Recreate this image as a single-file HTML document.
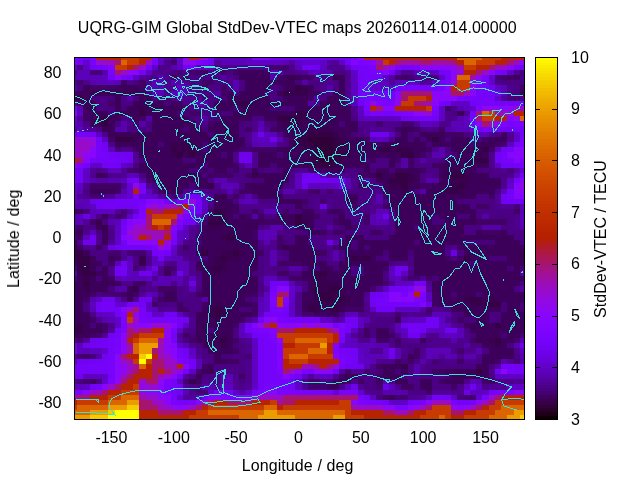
<!DOCTYPE html>
<html><head><meta charset="utf-8"><title>plot</title>
<style>
html,body{margin:0;padding:0;background:#fff;}
body{width:640px;height:480px;overflow:hidden;}
svg{display:block;}
text{font-family:"Liberation Sans",sans-serif;font-size:16px;fill:#000;}
.t{opacity:0.999;}
</style></head><body>
<svg width="640" height="480" viewBox="0 0 640 480">
<rect width="640" height="480" fill="#fff"/>
<g shape-rendering="crispEdges"><path fill="#300039" d="M308 137h25v5h-25zM314 142h19v5h-19zM320 147h13v5h-13zM320 152h13v6h-13zM320 158h13v5h-13z"/><path fill="#350044" d="M295 85h7v6h-7zM283 91h6v5h-6zM77 96h6v5h-6zM239 101h6v5h-6zM139 111h7v5h-7zM295 111h7v5h-7zM102 116h6v5h-6zM277 116h25v5h-25zM102 121h6v6h-6zM308 132h25v5h-25zM115 137h18v5h-18zM302 137h6v5h-6zM333 137h6v5h-6zM432 137h7v5h-7zM302 142h12v5h-12zM333 142h12v5h-12zM171 147h6v5h-6zM183 147h6v5h-6zM314 147h6v5h-6zM333 147h6v5h-6zM383 147h6v5h-6zM395 147h6v5h-6zM482 147h7v5h-7zM177 152h6v6h-6zM189 152h7v6h-7zM314 152h6v6h-6zM333 152h12v6h-12zM401 152h13v6h-13zM314 158h6v5h-6zM333 158h6v5h-6zM476 158h13v5h-13zM314 163h19v5h-19zM376 173h7v5h-7zM395 173h13v5h-13zM451 173h13v5h-13zM389 178h19v5h-19zM401 183h7v6h-7zM457 183h7v6h-7zM451 189h6v5h-6zM214 209h7v5h-7zM295 214h7v5h-7zM208 219h13v6h-13zM295 219h7v6h-7zM227 235h6v5h-6zM77 250h6v6h-6zM202 250h6v6h-6zM233 250h6v6h-6zM77 256h13v5h-13zM221 256h6v5h-6zM351 256h7v5h-7zM364 256h6v5h-6zM464 256h6v5h-6zM77 261h13v5h-13zM77 266h13v5h-13zM214 266h7v5h-7zM83 271h13v5h-13zM314 271h13v5h-13zM83 281h7v5h-7zM314 286h6v6h-6zM327 286h12v6h-12zM320 292h13v5h-13zM320 297h13v5h-13zM339 297h6v5h-6zM470 297h12v5h-12zM489 302h12v5h-12zM214 307h7v5h-7zM308 307h6v5h-6zM333 307h6v5h-6zM214 312h7v5h-7zM495 323h6v5h-6zM77 328h6v5h-6zM221 338h6v5h-6zM495 338h6v5h-6zM476 369h6v5h-6z"/><path fill="#39004f" d="M289 75h6v5h-6zM333 75h6v5h-6zM302 85h6v6h-6zM289 91h19v5h-19zM245 101h7v5h-7zM139 106h7v5h-7zM302 111h6v5h-6zM96 116h6v5h-6zM302 116h6v5h-6zM283 121h19v6h-19zM308 127h25v5h-25zM302 132h6v5h-6zM333 132h6v5h-6zM133 137h6v5h-6zM295 137h7v5h-7zM339 137h6v5h-6zM171 142h18v5h-18zM295 142h7v5h-7zM345 142h6v5h-6zM177 147h6v5h-6zM189 147h7v5h-7zM302 147h12v5h-12zM339 147h12v5h-12zM376 147h7v5h-7zM389 147h6v5h-6zM401 147h13v5h-13zM171 152h6v6h-6zM308 152h6v6h-6zM345 152h6v6h-6zM476 152h6v6h-6zM308 158h6v5h-6zM339 158h6v5h-6zM470 158h6v5h-6zM333 163h6v5h-6zM451 168h13v5h-13zM252 173h6v5h-6zM408 173h6v5h-6zM445 173h6v5h-6zM464 173h6v5h-6zM408 178h6v5h-6zM451 178h19v5h-19zM208 183h6v6h-6zM389 183h12v6h-12zM451 183h6v6h-6zM464 183h6v6h-6zM401 189h7v5h-7zM445 189h6v5h-6zM457 189h7v5h-7zM221 194h6v5h-6zM221 209h6v5h-6zM214 214h13v5h-13zM96 219h6v6h-6zM221 219h6v6h-6zM302 219h6v6h-6zM102 225h6v5h-6zM208 225h13v5h-13zM227 230h6v5h-6zM221 235h6v5h-6zM233 235h6v5h-6zM227 240h6v5h-6zM233 245h6v5h-6zM283 245h6v5h-6zM74 250h3v6h-3zM221 250h12v6h-12zM239 250h6v6h-6zM520 250h4v6h-4zM74 256h3v5h-3zM139 256h7v5h-7zM214 256h7v5h-7zM227 256h12v5h-12zM358 256h6v5h-6zM520 256h4v5h-4zM139 261h7v5h-7zM214 261h13v5h-13zM208 266h6v5h-6zM221 266h6v5h-6zM77 271h6v5h-6zM214 271h7v5h-7zM83 276h7v5h-7zM314 276h13v5h-13zM314 281h25v5h-25zM83 286h7v6h-7zM133 286h6v6h-6zM320 286h7v6h-7zM339 286h6v6h-6zM314 292h6v5h-6zM333 292h12v5h-12zM314 297h6v5h-6zM333 297h6v5h-6zM345 297h6v5h-6zM464 297h6v5h-6zM489 297h6v5h-6zM214 302h7v5h-7zM308 302h37v5h-37zM470 302h19v5h-19zM208 307h6v5h-6zM221 307h6v5h-6zM314 307h6v5h-6zM327 307h6v5h-6zM208 312h6v5h-6zM221 312h6v5h-6zM214 317h7v6h-7zM77 323h6v5h-6zM74 328h3v5h-3zM221 333h6v5h-6zM214 338h7v5h-7zM476 338h6v5h-6zM489 338h6v5h-6zM221 343h6v5h-6zM495 343h6v5h-6zM401 364h7v5h-7zM189 379h7v5h-7z"/><path fill="#3d005a" d="M239 70h25v5h-25zM239 75h31v5h-31zM283 75h6v5h-6zM295 75h7v5h-7zM339 75h6v5h-6zM245 80h25v5h-25zM277 80h18v5h-18zM339 80h6v5h-6zM83 85h7v6h-7zM115 85h24v6h-24zM245 85h25v6h-25zM283 85h12v6h-12zM308 85h6v6h-6zM339 85h6v6h-6zM77 91h69v5h-69zM227 91h6v5h-6zM239 91h25v5h-25zM277 91h6v5h-6zM308 91h6v5h-6zM333 91h12v5h-12zM520 91h4v5h-4zM74 96h3v5h-3zM83 96h7v5h-7zM115 96h6v5h-6zM139 96h13v5h-13zM227 96h43v5h-43zM283 96h25v5h-25zM327 96h18v5h-18zM83 101h13v5h-13zM115 101h6v5h-6zM133 101h31v5h-31zM171 101h6v5h-6zM214 101h25v5h-25zM252 101h56v5h-56zM320 101h25v5h-25zM83 106h13v5h-13zM115 106h6v5h-6zM127 106h12v5h-12zM146 106h37v5h-37zM214 106h19v5h-19zM239 106h31v5h-31zM295 106h56v5h-56zM90 111h18v5h-18zM115 111h24v5h-24zM146 111h31v5h-31zM233 111h62v5h-62zM308 111h43v5h-43zM457 111h7v5h-7zM90 116h6v5h-6zM108 116h13v5h-13zM133 116h6v5h-6zM152 116h37v5h-37zM221 116h31v5h-31zM264 116h13v5h-13zM308 116h43v5h-43zM90 121h12v6h-12zM108 121h7v6h-7zM152 121h44v6h-44zM214 121h25v6h-25zM277 121h6v6h-6zM302 121h37v6h-37zM345 121h13v6h-13zM102 127h13v5h-13zM152 127h31v5h-31zM189 127h13v5h-13zM208 127h31v5h-31zM277 127h31v5h-31zM333 127h25v5h-25zM401 127h13v5h-13zM108 132h100v5h-100zM214 132h25v5h-25zM283 132h19v5h-19zM339 132h12v5h-12zM401 132h7v5h-7zM420 132h25v5h-25zM139 137h106v5h-106zM289 137h6v5h-6zM345 137h19v5h-19zM395 137h13v5h-13zM414 137h6v5h-6zM426 137h6v5h-6zM439 137h6v5h-6zM451 137h19v5h-19zM489 137h18v5h-18zM115 142h43v5h-43zM164 142h7v5h-7zM189 142h13v5h-13zM208 142h37v5h-37zM289 142h6v5h-6zM351 142h25v5h-25zM383 142h43v5h-43zM432 142h38v5h-38zM476 142h19v5h-19zM139 147h32v5h-32zM196 147h6v5h-6zM208 147h31v5h-31zM277 147h25v5h-25zM351 147h25v5h-25zM414 147h12v5h-12zM451 147h31v5h-31zM139 152h32v6h-32zM183 152h6v6h-6zM196 152h25v6h-25zM227 152h6v6h-6zM258 152h19v6h-19zM283 152h25v6h-25zM351 152h50v6h-50zM414 152h6v6h-6zM457 152h19v6h-19zM482 152h7v6h-7zM146 158h37v5h-37zM196 158h37v5h-37zM258 158h50v5h-50zM345 158h19v5h-19zM370 158h6v5h-6zM389 158h6v5h-6zM445 158h25v5h-25zM139 163h63v5h-63zM208 163h25v5h-25zM258 163h12v5h-12zM277 163h37v5h-37zM339 163h31v5h-31zM389 163h6v5h-6zM439 163h50v5h-50zM139 168h50v5h-50zM214 168h13v5h-13zM252 168h6v5h-6zM283 168h6v5h-6zM327 168h18v5h-18zM364 168h6v5h-6zM376 168h13v5h-13zM395 168h25v5h-25zM439 168h12v5h-12zM464 168h12v5h-12zM96 173h6v5h-6zM146 173h56v5h-56zM258 173h31v5h-31zM370 173h6v5h-6zM383 173h12v5h-12zM414 173h6v5h-6zM439 173h6v5h-6zM470 173h19v5h-19zM152 178h56v5h-56zM264 178h25v5h-25zM376 178h13v5h-13zM414 178h6v5h-6zM439 178h12v5h-12zM470 178h31v5h-31zM158 183h31v6h-31zM196 183h12v6h-12zM245 183h38v6h-38zM383 183h6v6h-6zM408 183h12v6h-12zM432 183h19v6h-19zM470 183h31v6h-31zM90 189h25v5h-25zM164 189h19v5h-19zM252 189h25v5h-25zM383 189h18v5h-18zM408 189h6v5h-6zM426 189h19v5h-19zM464 189h31v5h-31zM214 194h7v5h-7zM258 194h25v5h-25zM345 194h13v5h-13zM389 194h87v5h-87zM214 199h19v5h-19zM277 199h25v5h-25zM345 199h13v5h-13zM389 199h68v5h-68zM214 204h25v5h-25zM295 204h7v5h-7zM389 204h81v5h-81zM227 209h12v5h-12zM302 209h12v5h-12zM333 209h6v5h-6zM395 209h81v5h-81zM102 214h6v5h-6zM208 214h6v5h-6zM227 214h6v5h-6zM239 214h6v5h-6zM277 214h18v5h-18zM302 214h12v5h-12zM339 214h6v5h-6zM395 214h37v5h-37zM439 214h18v5h-18zM470 214h6v5h-6zM227 219h37v6h-37zM283 219h12v6h-12zM308 219h6v6h-6zM339 219h12v6h-12zM395 219h37v6h-37zM445 219h31v6h-31zM96 225h6v5h-6zM202 225h6v5h-6zM221 225h37v5h-37zM295 225h19v5h-19zM345 225h6v5h-6zM395 225h19v5h-19zM420 225h44v5h-44zM77 230h6v5h-6zM102 230h6v5h-6zM202 230h25v5h-25zM233 230h19v5h-19zM308 230h12v5h-12zM395 230h69v5h-69zM476 230h6v5h-6zM501 230h6v5h-6zM102 235h6v5h-6zM202 235h19v5h-19zM239 235h13v5h-13zM295 235h13v5h-13zM345 235h19v5h-19zM389 235h125v5h-125zM74 240h3v5h-3zM102 240h6v5h-6zM202 240h25v5h-25zM233 240h25v5h-25zM295 240h13v5h-13zM345 240h6v5h-6zM358 240h56v5h-56zM420 240h44v5h-44zM495 240h25v5h-25zM74 245h3v5h-3zM196 245h37v5h-37zM239 245h19v5h-19zM289 245h25v5h-25zM339 245h12v5h-12zM358 245h6v5h-6zM370 245h75v5h-75zM464 245h60v5h-60zM83 250h7v6h-7zM196 250h6v6h-6zM208 250h13v6h-13zM245 250h13v6h-13zM289 250h31v6h-31zM345 250h38v6h-38zM389 250h19v6h-19zM414 250h31v6h-31zM464 250h56v6h-56zM90 256h6v5h-6zM108 256h7v5h-7zM208 256h6v5h-6zM239 256h19v5h-19zM289 256h25v5h-25zM345 256h6v5h-6zM370 256h6v5h-6zM389 256h19v5h-19zM414 256h31v5h-31zM470 256h19v5h-19zM507 256h13v5h-13zM74 261h3v5h-3zM90 261h12v5h-12zM196 261h18v5h-18zM227 261h31v5h-31zM302 261h25v5h-25zM339 261h50v5h-50zM414 261h56v5h-56zM476 261h48v5h-48zM90 266h6v5h-6zM102 266h6v5h-6zM196 266h12v5h-12zM227 266h31v5h-31zM308 266h6v5h-6zM320 266h13v5h-13zM339 266h12v5h-12zM364 266h19v5h-19zM414 266h93v5h-93zM514 266h6v5h-6zM96 271h12v5h-12zM164 271h7v5h-7zM202 271h12v5h-12zM221 271h31v5h-31zM302 271h12v5h-12zM327 271h24v5h-24zM364 271h19v5h-19zM414 271h106v5h-106zM77 276h6v5h-6zM90 276h6v5h-6zM102 276h6v5h-6zM202 276h56v5h-56zM302 276h12v5h-12zM327 276h56v5h-56zM439 276h85v5h-85zM74 281h9v5h-9zM90 281h31v5h-31zM202 281h56v5h-56zM308 281h6v5h-6zM339 281h44v5h-44zM432 281h88v5h-88zM74 286h9v6h-9zM90 286h18v6h-18zM127 286h6v6h-6zM202 286h56v6h-56zM308 286h6v6h-6zM345 286h25v6h-25zM432 286h82v6h-82zM74 292h16v5h-16zM127 292h6v5h-6zM164 292h13v5h-13zM202 292h50v5h-50zM302 292h12v5h-12zM345 292h19v5h-19zM439 292h12v5h-12zM457 292h19v5h-19zM482 292h42v5h-42zM74 297h9v5h-9zM127 297h6v5h-6zM164 297h13v5h-13zM208 297h37v5h-37zM302 297h12v5h-12zM351 297h13v5h-13zM439 297h25v5h-25zM482 297h7v5h-7zM495 297h29v5h-29zM74 302h9v5h-9zM208 302h6v5h-6zM221 302h31v5h-31zM302 302h6v5h-6zM345 302h19v5h-19zM439 302h31v5h-31zM507 302h13v5h-13zM74 307h9v5h-9zM202 307h6v5h-6zM227 307h12v5h-12zM302 307h6v5h-6zM320 307h7v5h-7zM339 307h6v5h-6zM451 307h50v5h-50zM507 307h13v5h-13zM74 312h16v5h-16zM196 312h12v5h-12zM227 312h25v5h-25zM314 312h6v5h-6zM327 312h12v5h-12zM464 312h25v5h-25zM501 312h23v5h-23zM74 317h16v6h-16zM196 317h18v6h-18zM221 317h18v6h-18zM395 317h6v6h-6zM476 317h13v6h-13zM501 317h23v6h-23zM74 323h3v5h-3zM83 323h7v5h-7zM96 323h6v5h-6zM196 323h37v5h-37zM470 323h25v5h-25zM501 323h23v5h-23zM83 328h19v5h-19zM196 328h12v5h-12zM214 328h19v5h-19zM376 328h13v5h-13zM470 328h54v5h-54zM74 333h16v5h-16zM196 333h25v5h-25zM227 333h6v5h-6zM376 333h13v5h-13zM476 333h25v5h-25zM507 333h13v5h-13zM196 338h18v5h-18zM227 338h6v5h-6zM420 338h6v5h-6zM482 338h7v5h-7zM501 338h13v5h-13zM202 343h19v5h-19zM227 343h6v5h-6zM482 343h13v5h-13zM501 343h6v5h-6zM208 348h25v6h-25zM489 348h25v6h-25zM214 354h7v5h-7zM408 354h6v5h-6zM482 354h32v5h-32zM214 359h13v5h-13zM482 359h13v5h-13zM208 364h6v5h-6zM383 364h18v5h-18zM476 364h13v5h-13zM202 369h12v5h-12zM383 369h12v5h-12zM401 369h7v5h-7zM445 369h31v5h-31zM482 369h7v5h-7zM196 374h6v5h-6zM345 374h13v5h-13zM383 374h18v5h-18zM451 374h38v5h-38zM333 379h12v5h-12zM395 379h13v5h-13zM420 379h12v5h-12zM445 379h19v5h-19zM327 384h12v6h-12zM420 384h12v6h-12zM389 395h6v5h-6z"/><path fill="#410064" d="M283 65h6v5h-6zM196 70h12v5h-12zM221 70h6v5h-6zM233 70h6v5h-6zM264 70h6v5h-6zM171 75h6v5h-6zM183 75h6v5h-6zM277 75h6v5h-6zM302 75h12v5h-12zM401 75h7v5h-7zM507 75h13v5h-13zM121 80h6v5h-6zM139 80h7v5h-7zM202 80h12v5h-12zM270 80h7v5h-7zM90 85h25v6h-25zM139 85h7v6h-7zM202 85h6v6h-6zM221 85h6v6h-6zM520 85h4v6h-4zM74 91h3v5h-3zM221 91h6v5h-6zM314 91h6v5h-6zM164 96h7v5h-7zM308 96h6v5h-6zM77 101h6v5h-6zM108 101h7v5h-7zM177 101h6v5h-6zM183 106h6v5h-6zM445 106h6v5h-6zM83 111h7v5h-7zM189 111h13v5h-13zM214 111h7v5h-7zM83 116h7v5h-7zM139 116h7v5h-7zM133 121h6v6h-6zM208 121h6v6h-6zM245 127h7v5h-7zM270 127h7v5h-7zM395 127h6v5h-6zM414 127h6v5h-6zM439 127h6v5h-6zM445 132h19v5h-19zM501 132h6v5h-6zM108 137h7v5h-7zM364 137h6v5h-6zM482 137h7v5h-7zM376 142h7v5h-7zM495 142h6v5h-6zM133 147h6v5h-6zM252 147h25v5h-25zM426 147h6v5h-6zM489 147h6v5h-6zM420 152h6v6h-6zM395 158h6v5h-6zM408 158h6v5h-6zM233 163h6v5h-6zM408 163h6v5h-6zM432 163h7v5h-7zM133 168h6v5h-6zM202 168h6v5h-6zM233 168h6v5h-6zM314 168h13v5h-13zM420 168h6v5h-6zM102 173h6v5h-6zM208 173h25v5h-25zM245 173h7v5h-7zM358 173h12v5h-12zM146 178h6v5h-6zM90 183h31v6h-31zM358 183h12v6h-12zM420 183h12v6h-12zM115 189h6v5h-6zM158 189h6v5h-6zM239 189h13v5h-13zM314 189h6v5h-6zM233 194h6v5h-6zM383 194h6v5h-6zM489 194h6v5h-6zM302 199h6v5h-6zM351 204h7v5h-7zM383 204h6v5h-6zM476 204h13v5h-13zM74 209h9v5h-9zM208 209h6v5h-6zM252 209h6v5h-6zM283 209h6v5h-6zM327 209h6v5h-6zM339 209h6v5h-6zM514 209h6v5h-6zM245 214h7v5h-7zM258 214h6v5h-6zM314 214h6v5h-6zM364 214h6v5h-6zM90 219h6v6h-6zM202 219h6v6h-6zM264 219h19v6h-19zM333 219h6v6h-6zM364 219h6v6h-6zM476 219h31v6h-31zM77 225h6v5h-6zM351 225h7v5h-7zM74 230h3v5h-3zM252 230h6v5h-6zM320 230h7v5h-7zM333 230h12v5h-12zM370 230h13v5h-13zM482 230h19v5h-19zM77 235h6v5h-6zM196 235h6v5h-6zM252 235h6v5h-6zM277 235h6v5h-6zM277 240h6v5h-6zM339 240h6v5h-6zM77 245h6v5h-6zM96 245h6v5h-6zM183 245h6v5h-6zM277 245h6v5h-6zM457 245h7v5h-7zM258 250h6v6h-6zM320 250h7v6h-7zM115 256h6v5h-6zM445 256h6v5h-6zM457 256h7v5h-7zM108 261h7v5h-7zM277 261h25v5h-25zM164 266h7v5h-7zM383 266h6v5h-6zM277 271h12v5h-12zM108 276h7v5h-7zM289 276h13v5h-13zM426 276h6v5h-6zM133 281h13v5h-13zM158 286h19v6h-19zM90 292h6v5h-6zM121 292h6v5h-6zM133 292h6v5h-6zM196 292h6v5h-6zM252 292h6v5h-6zM432 292h7v5h-7zM83 297h7v5h-7zM158 297h6v5h-6zM432 297h7v5h-7zM152 302h6v5h-6zM177 302h6v5h-6zM202 302h6v5h-6zM252 302h6v5h-6zM432 302h7v5h-7zM177 307h12v5h-12zM252 307h6v5h-6zM345 307h19v5h-19zM252 312h6v5h-6zM320 312h7v5h-7zM90 317h6v6h-6zM239 317h6v6h-6zM457 317h7v6h-7zM102 323h6v5h-6zM233 323h6v5h-6zM464 323h6v5h-6zM102 328h6v5h-6zM364 328h6v5h-6zM90 333h6v5h-6zM183 333h6v5h-6zM364 333h6v5h-6zM389 333h6v5h-6zM189 338h7v5h-7zM233 338h6v5h-6zM376 338h13v5h-13zM395 338h6v5h-6zM470 338h6v5h-6zM233 348h6v6h-6zM414 348h6v6h-6zM83 354h7v5h-7zM414 354h6v5h-6zM227 359h12v5h-12zM395 359h6v5h-6zM408 359h6v5h-6zM457 359h7v5h-7zM495 359h6v5h-6zM202 364h6v5h-6zM376 364h7v5h-7zM432 369h13v5h-13zM239 374h6v5h-6zM339 374h6v5h-6zM376 374h7v5h-7zM90 379h6v5h-6zM196 379h6v5h-6zM308 379h12v5h-12zM345 379h6v5h-6zM358 379h6v5h-6zM376 379h7v5h-7zM439 379h6v5h-6zM482 379h13v5h-13zM401 384h13v6h-13zM451 384h6v6h-6zM426 390h6v5h-6zM383 395h6v5h-6z"/><path fill="#44006f" d="M171 60h6v5h-6zM270 65h13v5h-13zM177 70h6v5h-6zM189 70h7v5h-7zM395 75h6v5h-6zM408 75h6v5h-6zM426 75h6v5h-6zM501 75h6v5h-6zM77 80h6v5h-6zM202 96h6v5h-6zM514 96h6v5h-6zM376 121h7v6h-7zM401 121h13v6h-13zM501 142h6v5h-6zM239 147h13v5h-13zM127 168h6v5h-6zM308 168h6v5h-6zM308 189h6v5h-6zM327 189h6v5h-6zM90 194h12v5h-12zM171 194h6v5h-6zM320 199h7v5h-7zM115 214h6v5h-6zM333 245h6v5h-6zM108 250h13v6h-13zM133 250h13v6h-13zM133 266h6v5h-6zM171 266h6v5h-6zM408 276h12v5h-12zM383 281h6v5h-6zM370 286h6v6h-6zM102 292h19v5h-19zM426 307h6v5h-6zM302 312h12v5h-12zM395 312h6v5h-6zM96 333h6v5h-6zM77 338h6v5h-6zM514 338h6v5h-6zM395 343h6v5h-6zM457 348h7v6h-7zM77 354h6v5h-6zM245 354h7v5h-7zM432 359h7v5h-7zM196 369h6v5h-6zM345 369h6v5h-6zM364 369h6v5h-6zM83 379h7v5h-7zM183 379h6v5h-6zM308 384h19v6h-19zM376 384h7v6h-7zM196 390h6v5h-6zM395 395h13v5h-13zM464 395h12v5h-12z"/><path fill="#470079" d="M90 70h12v5h-12zM520 70h4v5h-4zM432 75h7v5h-7zM495 75h6v5h-6zM295 80h7v5h-7zM277 85h6v6h-6zM264 91h6v5h-6zM90 96h6v5h-6zM108 96h7v5h-7zM221 96h6v5h-6zM277 96h6v5h-6zM507 96h7v5h-7zM164 101h7v5h-7zM121 106h6v5h-6zM233 106h6v5h-6zM270 106h25v5h-25zM108 111h7v5h-7zM177 111h12v5h-12zM221 111h12v5h-12zM189 116h7v5h-7zM214 116h7v5h-7zM239 121h6v6h-6zM270 121h7v6h-7zM339 121h6v6h-6zM183 127h6v5h-6zM202 127h6v5h-6zM208 132h6v5h-6zM351 132h7v5h-7zM408 132h6v5h-6zM408 137h6v5h-6zM420 137h6v5h-6zM445 137h6v5h-6zM158 142h6v5h-6zM202 142h6v5h-6zM426 142h6v5h-6zM470 142h6v5h-6zM115 147h6v5h-6zM202 147h6v5h-6zM221 152h6v6h-6zM277 152h6v6h-6zM451 152h6v6h-6zM139 158h7v5h-7zM183 158h13v5h-13zM364 158h6v5h-6zM202 163h6v5h-6zM270 163h7v5h-7zM189 168h13v5h-13zM208 168h6v5h-6zM227 168h6v5h-6zM258 168h6v5h-6zM277 168h6v5h-6zM358 168h6v5h-6zM370 168h6v5h-6zM389 168h6v5h-6zM476 168h6v5h-6zM507 168h7v5h-7zM202 173h6v5h-6zM252 178h12v5h-12zM189 183h7v6h-7zM457 199h7v5h-7zM302 204h6v5h-6zM514 204h6v5h-6zM83 209h7v5h-7zM121 209h6v5h-6zM295 209h7v5h-7zM121 214h6v5h-6zM233 214h6v5h-6zM333 214h6v5h-6zM432 214h7v5h-7zM457 214h13v5h-13zM432 219h13v6h-13zM339 225h6v5h-6zM414 225h6v5h-6zM302 230h6v5h-6zM345 230h6v5h-6zM74 235h3v5h-3zM196 240h6v5h-6zM283 240h6v5h-6zM351 240h7v5h-7zM414 240h6v5h-6zM464 240h31v5h-31zM351 245h7v5h-7zM364 245h6v5h-6zM127 250h6v6h-6zM283 250h6v6h-6zM383 250h6v6h-6zM408 250h6v6h-6zM202 256h6v5h-6zM314 256h6v5h-6zM376 256h7v5h-7zM489 256h18v5h-18zM470 261h6v5h-6zM74 266h3v5h-3zM96 266h6v5h-6zM314 266h6v5h-6zM333 266h6v5h-6zM507 266h7v5h-7zM520 266h4v5h-4zM252 271h6v5h-6zM74 276h3v5h-3zM96 276h6v5h-6zM432 276h7v5h-7zM108 286h7v6h-7zM451 292h6v5h-6zM476 292h6v5h-6zM245 297h7v5h-7zM501 302h6v5h-6zM520 302h4v5h-4zM239 307h13v5h-13zM501 307h6v5h-6zM520 307h4v5h-4zM426 312h6v5h-6zM457 312h7v5h-7zM464 317h12v6h-12zM495 317h6v6h-6zM90 323h6v5h-6zM208 328h6v5h-6zM189 333h7v5h-7zM470 333h6v5h-6zM501 333h6v5h-6zM520 333h4v5h-4zM233 343h6v5h-6zM90 354h6v5h-6zM221 354h12v5h-12zM401 359h7v5h-7zM514 359h6v5h-6zM376 369h7v5h-7zM395 369h6v5h-6zM445 374h6v5h-6zM77 379h6v5h-6zM202 390h6v5h-6zM376 395h7v5h-7zM457 395h7v5h-7z"/><path fill="#4b0083" d="M77 65h6v5h-6zM171 70h6v5h-6zM214 70h7v5h-7zM227 70h6v5h-6zM283 70h12v5h-12zM333 70h12v5h-12zM177 75h6v5h-6zM189 75h32v5h-32zM233 75h6v5h-6zM520 75h4v5h-4zM133 80h6v5h-6zM189 80h13v5h-13zM214 80h13v5h-13zM239 80h6v5h-6zM308 80h12v5h-12zM333 80h6v5h-6zM501 80h23v5h-23zM77 85h6v6h-6zM196 85h6v6h-6zM208 85h13v6h-13zM227 85h6v6h-6zM239 85h6v6h-6zM270 85h7v6h-7zM314 85h6v6h-6zM333 85h6v6h-6zM514 85h6v6h-6zM146 91h6v5h-6zM196 91h18v5h-18zM233 91h6v5h-6zM270 91h7v5h-7zM320 91h13v5h-13zM514 91h6v5h-6zM96 96h12v5h-12zM121 96h6v5h-6zM133 96h6v5h-6zM152 96h12v5h-12zM208 96h13v5h-13zM270 96h7v5h-7zM320 96h7v5h-7zM96 101h12v5h-12zM121 101h12v5h-12zM183 101h6v5h-6zM208 101h6v5h-6zM314 101h6v5h-6zM345 101h6v5h-6zM96 106h19v5h-19zM189 106h7v5h-7zM208 106h6v5h-6zM202 111h12v5h-12zM451 111h6v5h-6zM121 116h12v5h-12zM196 116h6v5h-6zM208 116h6v5h-6zM252 116h12v5h-12zM351 116h7v5h-7zM83 121h7v6h-7zM115 121h6v6h-6zM146 121h6v6h-6zM196 121h12v6h-12zM245 121h7v6h-7zM264 121h6v6h-6zM96 127h6v5h-6zM127 127h25v5h-25zM239 127h6v5h-6zM358 127h6v5h-6zM420 127h6v5h-6zM432 127h7v5h-7zM239 132h6v5h-6zM358 132h6v5h-6zM395 132h6v5h-6zM414 132h6v5h-6zM464 132h6v5h-6zM283 137h6v5h-6zM470 137h12v5h-12zM245 142h7v5h-7zM283 142h6v5h-6zM445 147h6v5h-6zM426 152h6v6h-6zM445 152h6v6h-6zM376 158h13v5h-13zM414 158h6v5h-6zM439 158h6v5h-6zM133 163h6v5h-6zM370 163h19v5h-19zM395 163h6v5h-6zM414 163h18v5h-18zM239 168h13v5h-13zM264 168h13v5h-13zM289 168h6v5h-6zM345 168h13v5h-13zM426 168h13v5h-13zM482 168h13v5h-13zM139 173h7v5h-7zM233 173h12v5h-12zM289 173h6v5h-6zM351 173h7v5h-7zM420 173h6v5h-6zM432 173h7v5h-7zM489 173h18v5h-18zM208 178h6v5h-6zM239 178h13v5h-13zM358 178h6v5h-6zM370 178h6v5h-6zM420 178h6v5h-6zM152 183h6v6h-6zM239 183h6v6h-6zM283 183h6v6h-6zM370 183h13v6h-13zM83 189h7v5h-7zM208 189h13v5h-13zM277 189h6v5h-6zM351 189h32v5h-32zM414 189h6v5h-6zM495 189h6v5h-6zM227 194h6v5h-6zM252 194h6v5h-6zM283 194h62v5h-62zM358 194h12v5h-12zM476 194h13v5h-13zM233 199h6v5h-6zM258 199h19v5h-19zM308 199h6v5h-6zM333 199h12v5h-12zM358 199h12v5h-12zM383 199h6v5h-6zM464 199h31v5h-31zM208 204h6v5h-6zM277 204h18v5h-18zM308 204h6v5h-6zM333 204h18v5h-18zM358 204h12v5h-12zM470 204h6v5h-6zM489 204h6v5h-6zM239 209h13v5h-13zM258 209h6v5h-6zM277 209h6v5h-6zM289 209h6v5h-6zM314 209h6v5h-6zM345 209h25v5h-25zM389 209h6v5h-6zM476 209h38v5h-38zM264 214h13v5h-13zM320 214h13v5h-13zM345 214h19v5h-19zM476 214h6v5h-6zM489 214h25v5h-25zM102 219h6v6h-6zM314 219h19v6h-19zM351 219h13v6h-13zM507 219h7v6h-7zM74 225h3v5h-3zM83 225h13v5h-13zM258 225h6v5h-6zM283 225h12v5h-12zM314 225h13v5h-13zM333 225h6v5h-6zM358 225h18v5h-18zM389 225h6v5h-6zM464 225h18v5h-18zM501 225h13v5h-13zM96 230h6v5h-6zM108 230h7v5h-7zM196 230h6v5h-6zM283 230h19v5h-19zM327 230h6v5h-6zM351 230h19v5h-19zM383 230h12v5h-12zM464 230h12v5h-12zM507 230h17v5h-17zM108 235h7v5h-7zM283 235h12v5h-12zM308 235h19v5h-19zM339 235h6v5h-6zM364 235h25v5h-25zM514 235h10v5h-10zM189 240h7v5h-7zM289 240h6v5h-6zM308 240h12v5h-12zM520 240h4v5h-4zM189 245h7v5h-7zM258 245h6v5h-6zM314 245h13v5h-13zM445 245h6v5h-6zM90 250h18v6h-18zM183 250h13v6h-13zM277 250h6v6h-6zM339 250h6v6h-6zM457 250h7v6h-7zM96 256h12v5h-12zM133 256h6v5h-6zM189 256h13v5h-13zM258 256h6v5h-6zM283 256h6v5h-6zM320 256h7v5h-7zM339 256h6v5h-6zM383 256h6v5h-6zM408 256h6v5h-6zM451 256h6v5h-6zM102 261h6v5h-6zM133 261h6v5h-6zM258 261h6v5h-6zM327 261h12v5h-12zM389 261h6v5h-6zM408 261h6v5h-6zM258 266h6v5h-6zM270 266h19v5h-19zM302 266h6v5h-6zM351 266h13v5h-13zM196 271h6v5h-6zM258 271h6v5h-6zM289 271h13v5h-13zM351 271h13v5h-13zM383 271h6v5h-6zM408 271h6v5h-6zM383 276h6v5h-6zM258 281h6v5h-6zM302 281h6v5h-6zM520 281h4v5h-4zM139 286h7v6h-7zM177 286h6v6h-6zM196 286h6v6h-6zM258 286h6v6h-6zM302 286h6v6h-6zM514 286h6v6h-6zM96 292h6v5h-6zM158 292h6v5h-6zM177 292h6v5h-6zM189 292h7v5h-7zM177 297h25v5h-25zM252 297h6v5h-6zM83 302h7v5h-7zM158 302h19v5h-19zM183 302h19v5h-19zM83 307h7v5h-7zM189 307h13v5h-13zM445 307h6v5h-6zM189 312h7v5h-7zM339 312h6v5h-6zM451 312h6v5h-6zM489 312h12v5h-12zM376 317h19v6h-19zM451 317h6v6h-6zM489 317h6v6h-6zM370 323h19v5h-19zM189 328h7v5h-7zM233 328h6v5h-6zM370 328h6v5h-6zM389 328h6v5h-6zM464 328h6v5h-6zM233 333h6v5h-6zM358 333h6v5h-6zM370 333h6v5h-6zM183 338h6v5h-6zM389 338h6v5h-6zM426 338h6v5h-6zM196 343h6v5h-6zM239 343h6v5h-6zM401 343h25v5h-25zM470 343h12v5h-12zM507 343h7v5h-7zM202 348h6v6h-6zM239 348h6v6h-6zM408 348h6v6h-6zM482 348h7v6h-7zM202 354h12v5h-12zM233 354h12v5h-12zM401 354h7v5h-7zM514 354h6v5h-6zM208 359h6v5h-6zM239 359h6v5h-6zM414 359h6v5h-6zM439 359h6v5h-6zM476 359h6v5h-6zM214 364h31v5h-31zM408 364h6v5h-6zM426 364h50v5h-50zM489 364h6v5h-6zM214 369h7v5h-7zM233 369h12v5h-12zM370 369h6v5h-6zM408 369h6v5h-6zM426 369h6v5h-6zM189 374h7v5h-7zM202 374h12v5h-12zM358 374h18v5h-18zM401 374h13v5h-13zM420 374h25v5h-25zM489 374h6v5h-6zM96 379h6v5h-6zM239 379h6v5h-6zM320 379h13v5h-13zM364 379h12v5h-12zM408 379h12v5h-12zM432 379h7v5h-7zM189 384h13v6h-13zM364 384h12v6h-12zM414 384h6v6h-6zM432 384h19v6h-19zM408 390h18v5h-18z"/><path fill="#4e008c" d="M171 57h6v3h-6zM164 60h7v5h-7zM158 65h13v5h-13zM214 65h56v5h-56zM289 65h6v5h-6zM327 65h18v5h-18zM158 70h13v5h-13zM183 70h6v5h-6zM208 70h6v5h-6zM295 70h7v5h-7zM345 70h6v5h-6zM146 75h12v5h-12zM164 75h7v5h-7zM227 75h6v5h-6zM314 75h19v5h-19zM345 75h6v5h-6zM414 75h12v5h-12zM74 80h3v5h-3zM83 80h7v5h-7zM127 80h6v5h-6zM146 80h6v5h-6zM164 80h7v5h-7zM183 80h6v5h-6zM227 80h6v5h-6zM320 80h13v5h-13zM345 80h6v5h-6zM495 80h6v5h-6zM164 85h7v6h-7zM189 85h7v6h-7zM320 85h7v6h-7zM345 85h6v6h-6zM507 85h7v6h-7zM164 91h7v5h-7zM189 91h7v5h-7zM345 91h6v5h-6zM507 91h7v5h-7zM171 96h6v5h-6zM183 96h19v5h-19zM345 96h6v5h-6zM520 96h4v5h-4zM189 101h7v5h-7zM196 106h12v5h-12zM351 106h7v5h-7zM451 106h6v5h-6zM351 111h7v5h-7zM445 111h6v5h-6zM445 116h12v5h-12zM127 121h6v6h-6zM252 121h6v6h-6zM358 121h18v6h-18zM383 121h18v6h-18zM439 121h12v6h-12zM252 127h6v5h-6zM364 127h6v5h-6zM389 127h6v5h-6zM426 127h6v5h-6zM102 132h6v5h-6zM245 132h7v5h-7zM277 132h6v5h-6zM364 132h6v5h-6zM470 132h6v5h-6zM495 132h6v5h-6zM245 137h7v5h-7zM389 137h6v5h-6zM507 137h7v5h-7zM108 142h7v5h-7zM277 142h6v5h-6zM121 147h12v5h-12zM432 147h7v5h-7zM133 152h6v6h-6zM233 152h6v6h-6zM252 152h6v6h-6zM489 152h6v6h-6zM233 158h6v5h-6zM252 158h6v5h-6zM426 158h13v5h-13zM489 158h6v5h-6zM252 163h6v5h-6zM489 163h6v5h-6zM96 168h6v5h-6zM295 168h13v5h-13zM495 168h6v5h-6zM90 173h6v5h-6zM108 173h13v5h-13zM345 173h6v5h-6zM426 173h6v5h-6zM507 173h7v5h-7zM227 178h12v5h-12zM289 178h6v5h-6zM351 178h7v5h-7zM501 178h6v5h-6zM83 183h7v6h-7zM214 183h7v6h-7zM289 183h6v6h-6zM351 183h7v6h-7zM501 183h6v6h-6zM152 189h6v5h-6zM183 189h6v5h-6zM202 189h6v5h-6zM221 189h6v5h-6zM233 189h6v5h-6zM295 189h13v5h-13zM320 189h7v5h-7zM333 189h18v5h-18zM83 194h7v5h-7zM102 194h6v5h-6zM164 194h7v5h-7zM208 194h6v5h-6zM239 194h6v5h-6zM370 194h6v5h-6zM208 199h6v5h-6zM314 199h6v5h-6zM327 199h6v5h-6zM370 199h6v5h-6zM239 204h38v5h-38zM314 204h6v5h-6zM327 204h6v5h-6zM370 204h13v5h-13zM495 204h6v5h-6zM320 209h7v5h-7zM370 209h6v5h-6zM96 214h6v5h-6zM108 214h7v5h-7zM202 214h6v5h-6zM389 214h6v5h-6zM514 214h6v5h-6zM389 219h6v6h-6zM514 219h6v6h-6zM108 225h7v5h-7zM196 225h6v5h-6zM264 225h6v5h-6zM376 225h13v5h-13zM514 225h6v5h-6zM83 230h7v5h-7zM189 230h7v5h-7zM277 230h6v5h-6zM96 235h6v5h-6zM189 235h7v5h-7zM327 235h12v5h-12zM77 240h6v5h-6zM96 240h6v5h-6zM183 240h6v5h-6zM258 240h6v5h-6zM270 240h7v5h-7zM320 240h7v5h-7zM83 245h13v5h-13zM102 245h6v5h-6zM177 245h6v5h-6zM264 245h13v5h-13zM327 245h6v5h-6zM451 245h6v5h-6zM177 250h6v6h-6zM264 250h6v6h-6zM327 250h6v6h-6zM445 250h6v6h-6zM121 256h6v5h-6zM146 256h6v5h-6zM183 256h6v5h-6zM264 256h6v5h-6zM277 256h6v5h-6zM327 256h6v5h-6zM146 261h6v5h-6zM164 261h13v5h-13zM189 261h7v5h-7zM264 261h6v5h-6zM395 261h13v5h-13zM108 266h7v5h-7zM158 266h6v5h-6zM189 266h7v5h-7zM264 266h6v5h-6zM408 266h6v5h-6zM108 271h7v5h-7zM158 271h6v5h-6zM171 271h6v5h-6zM189 271h7v5h-7zM264 271h13v5h-13zM196 276h6v5h-6zM258 276h6v5h-6zM283 276h6v5h-6zM420 276h6v5h-6zM121 281h12v5h-12zM146 281h6v5h-6zM171 281h6v5h-6zM196 281h6v5h-6zM295 281h7v5h-7zM146 286h12v6h-12zM183 286h6v6h-6zM183 292h6v5h-6zM258 292h6v5h-6zM295 292h7v5h-7zM364 292h6v5h-6zM121 297h6v5h-6zM152 297h6v5h-6zM295 297h7v5h-7zM295 302h7v5h-7zM364 302h6v5h-6zM158 307h6v5h-6zM295 307h7v5h-7zM364 307h6v5h-6zM432 307h13v5h-13zM90 312h6v5h-6zM358 312h18v5h-18zM389 312h6v5h-6zM401 312h7v5h-7zM414 312h12v5h-12zM96 317h6v6h-6zM189 317h7v6h-7zM245 317h7v6h-7zM370 317h6v6h-6zM108 323h7v5h-7zM189 323h7v5h-7zM364 323h6v5h-6zM389 323h6v5h-6zM457 323h7v5h-7zM183 328h6v5h-6zM358 328h6v5h-6zM395 333h6v5h-6zM426 333h13v5h-13zM464 333h6v5h-6zM74 338h3v5h-3zM239 338h6v5h-6zM358 338h12v5h-12zM401 338h7v5h-7zM432 338h19v5h-19zM457 338h13v5h-13zM189 343h7v5h-7zM245 343h7v5h-7zM389 343h6v5h-6zM426 343h38v5h-38zM196 348h6v6h-6zM245 348h7v6h-7zM401 348h7v6h-7zM420 348h6v6h-6zM451 348h6v6h-6zM464 348h12v6h-12zM514 348h6v6h-6zM420 354h6v5h-6zM457 354h7v5h-7zM476 354h6v5h-6zM202 359h6v5h-6zM245 359h7v5h-7zM376 359h19v5h-19zM426 359h6v5h-6zM445 359h12v5h-12zM464 359h12v5h-12zM245 364h7v5h-7zM370 364h6v5h-6zM420 364h6v5h-6zM221 369h12v5h-12zM245 369h7v5h-7zM420 369h6v5h-6zM489 369h6v5h-6zM214 374h7v5h-7zM233 374h6v5h-6zM245 374h7v5h-7zM414 374h6v5h-6zM202 379h19v5h-19zM233 379h6v5h-6zM245 379h7v5h-7zM302 379h6v5h-6zM351 379h7v5h-7zM389 379h6v5h-6zM464 379h6v5h-6zM495 379h19v5h-19zM239 384h6v6h-6zM339 384h6v6h-6zM395 384h6v6h-6zM457 384h7v6h-7zM482 384h7v6h-7zM189 390h7v5h-7zM370 390h13v5h-13zM451 390h13v5h-13z"/><path fill="#510096" d="M333 60h6v5h-6zM74 70h3v5h-3zM152 70h6v5h-6zM302 70h6v5h-6zM401 70h13v5h-13zM514 70h6v5h-6zM139 75h7v5h-7zM389 80h6v5h-6zM420 80h12v5h-12zM171 85h6v6h-6zM74 101h3v5h-3zM464 111h6v5h-6zM77 116h6v5h-6zM414 121h6v6h-6zM90 127h6v5h-6zM264 127h6v5h-6zM370 127h19v5h-19zM489 132h6v5h-6zM507 132h7v5h-7zM133 158h6v5h-6zM239 163h6v5h-6zM90 168h6v5h-6zM102 168h6v5h-6zM121 168h6v5h-6zM501 168h6v5h-6zM121 173h6v5h-6zM327 173h18v5h-18zM121 183h6v6h-6zM146 183h6v6h-6zM189 189h13v5h-13zM77 194h6v5h-6zM108 194h7v5h-7zM177 194h6v5h-6zM495 194h6v5h-6zM495 199h6v5h-6zM501 204h13v5h-13zM115 209h6v5h-6zM83 219h7v6h-7zM189 225h7v5h-7zM108 240h7v5h-7zM121 250h6v6h-6zM139 266h7v5h-7zM152 276h6v5h-6zM183 276h6v5h-6zM277 276h6v5h-6zM401 276h7v5h-7zM183 281h6v5h-6zM389 281h6v5h-6zM426 281h6v5h-6zM376 286h7v6h-7zM139 292h7v5h-7zM133 297h6v5h-6zM364 297h6v5h-6zM164 307h13v5h-13zM183 312h6v5h-6zM295 312h7v5h-7zM376 312h13v5h-13zM408 312h6v5h-6zM445 317h6v6h-6zM451 323h6v5h-6zM108 328h7v5h-7zM102 333h6v5h-6zM177 333h6v5h-6zM351 333h7v5h-7zM83 338h7v5h-7zM245 338h7v5h-7zM408 338h12v5h-12zM370 348h13v6h-13zM74 354h3v5h-3zM196 354h6v5h-6zM439 354h6v5h-6zM507 359h7v5h-7zM351 369h13v5h-13zM333 374h6v5h-6zM74 379h3v5h-3zM514 379h10v5h-10zM183 384h6v6h-6zM233 384h6v6h-6zM245 384h7v6h-7zM302 384h6v6h-6zM358 384h6v6h-6zM489 384h18v6h-18zM364 390h6v5h-6zM432 390h19v5h-19zM408 395h12v5h-12z"/><path fill="#53009f" d="M214 60h7v5h-7zM289 60h6v5h-6zM327 60h6v5h-6zM389 75h6v5h-6zM501 96h6v5h-6zM83 127h7v5h-7zM514 168h6v5h-6zM139 178h7v5h-7zM158 194h6v5h-6zM127 209h6v5h-6zM146 250h6v6h-6zM520 271h4v5h-4zM264 286h6v6h-6zM426 286h6v6h-6zM420 307h6v5h-6zM333 317h6v6h-6zM177 338h6v5h-6zM96 354h6v5h-6zM520 359h4v5h-4zM495 364h6v5h-6zM339 369h6v5h-6zM183 374h6v5h-6zM308 374h6v5h-6zM214 384h7v6h-7zM183 395h13v5h-13zM420 395h6v5h-6z"/><path fill="#5600a8" d="M102 70h6v5h-6zM277 70h6v5h-6zM221 75h6v5h-6zM270 75h7v5h-7zM302 80h6v5h-6zM74 85h3v6h-3zM214 91h7v5h-7zM127 96h6v5h-6zM314 96h6v5h-6zM308 101h6v5h-6zM146 116h6v5h-6zM202 116h6v5h-6zM139 121h7v6h-7zM74 127h3v5h-3zM115 127h6v5h-6zM445 127h6v5h-6zM401 158h7v5h-7zM420 158h6v5h-6zM401 163h7v5h-7zM96 178h12v5h-12zM364 178h6v5h-6zM432 178h7v5h-7zM420 189h6v5h-6zM252 214h6v5h-6zM482 214h7v5h-7zM327 225h6v5h-6zM482 225h19v5h-19zM289 266h13v5h-13zM74 271h3v5h-3zM115 286h12v6h-12zM520 286h4v6h-4zM202 297h6v5h-6zM252 317h6v6h-6zM339 317h6v6h-6zM464 343h6v5h-6zM239 390h6v5h-6zM401 390h7v5h-7z"/><path fill="#5900b0" d="M164 57h7v3h-7zM171 65h6v5h-6zM270 70h7v5h-7zM327 70h6v5h-6zM74 75h3v5h-3zM158 75h6v5h-6zM90 80h6v5h-6zM171 80h12v5h-12zM233 80h6v5h-6zM146 85h6v6h-6zM233 85h6v6h-6zM327 85h6v6h-6zM158 91h6v5h-6zM196 101h12v5h-12zM457 106h7v5h-7zM457 116h7v5h-7zM77 121h6v6h-6zM121 121h6v6h-6zM258 121h6v6h-6zM121 127h6v5h-6zM451 127h6v5h-6zM252 142h6v5h-6zM439 147h6v5h-6zM432 152h13v6h-13zM90 178h6v5h-6zM108 178h13v5h-13zM214 178h13v5h-13zM426 178h6v5h-6zM233 183h6v6h-6zM121 189h6v5h-6zM227 189h6v5h-6zM283 189h12v5h-12zM245 194h7v5h-7zM376 194h7v5h-7zM239 199h6v5h-6zM252 199h6v5h-6zM376 199h7v5h-7zM74 204h9v5h-9zM264 209h13v5h-13zM520 209h4v5h-4zM74 214h3v5h-3zM370 214h6v5h-6zM74 219h3v6h-3zM108 219h7v6h-7zM370 219h6v6h-6zM270 225h13v5h-13zM520 225h4v5h-4zM258 230h6v5h-6zM258 235h6v5h-6zM270 235h7v5h-7zM264 240h6v5h-6zM333 240h6v5h-6zM270 250h7v6h-7zM333 250h6v6h-6zM127 256h6v5h-6zM270 256h7v5h-7zM333 256h6v5h-6zM270 261h7v5h-7zM164 276h7v5h-7zM152 281h19v5h-19zM177 281h6v5h-6zM295 286h7v6h-7zM152 292h6v5h-6zM90 297h6v5h-6zM258 297h6v5h-6zM445 312h6v5h-6zM102 317h6v6h-6zM364 317h6v6h-6zM370 338h6v5h-6zM451 338h6v5h-6zM520 338h4v5h-4zM376 343h13v5h-13zM514 343h6v5h-6zM476 348h6v6h-6zM432 354h7v5h-7zM451 354h6v5h-6zM464 354h12v5h-12zM520 354h4v5h-4zM420 359h6v5h-6zM501 359h6v5h-6zM414 364h6v5h-6zM414 369h6v5h-6zM383 379h6v5h-6zM476 379h6v5h-6zM202 384h6v6h-6zM383 390h18v5h-18z"/><path fill="#5b01b8" d="M221 57h6v3h-6zM221 60h24v5h-24zM283 60h6v5h-6zM208 65h6v5h-6zM295 65h7v5h-7zM77 70h13v5h-13zM308 70h6v5h-6zM320 70h7v5h-7zM77 75h25v5h-25zM96 80h12v5h-12zM115 80h6v5h-6zM152 80h12v5h-12zM383 80h6v5h-6zM395 80h6v5h-6zM152 85h12v6h-12zM183 85h6v6h-6zM501 85h6v6h-6zM152 91h6v5h-6zM171 91h6v5h-6zM183 91h6v5h-6zM501 91h6v5h-6zM177 96h6v5h-6zM351 101h7v5h-7zM77 106h6v5h-6zM358 116h6v5h-6zM432 121h7v6h-7zM451 121h13v6h-13zM258 127h6v5h-6zM457 127h13v5h-13zM252 132h6v5h-6zM270 132h7v5h-7zM389 132h6v5h-6zM476 132h13v5h-13zM252 137h6v5h-6zM277 137h6v5h-6zM370 137h6v5h-6zM383 137h6v5h-6zM258 142h19v5h-19zM495 147h6v5h-6zM127 163h6v5h-6zM245 163h7v5h-7zM127 173h12v5h-12zM295 173h7v5h-7zM121 178h6v5h-6zM345 178h6v5h-6zM221 183h12v6h-12zM345 183h6v6h-6zM77 189h6v5h-6zM202 194h6v5h-6zM77 199h13v5h-13zM245 199h7v5h-7zM83 204h7v5h-7zM520 204h4v5h-4zM90 209h6v5h-6zM202 209h6v5h-6zM376 209h13v5h-13zM77 214h6v5h-6zM90 214h6v5h-6zM520 214h4v5h-4zM77 219h6v6h-6zM115 219h6v6h-6zM196 219h6v6h-6zM376 219h13v6h-13zM520 219h4v6h-4zM90 230h6v5h-6zM183 230h6v5h-6zM264 230h13v5h-13zM183 235h6v5h-6zM264 235h6v5h-6zM171 256h12v5h-12zM115 261h6v5h-6zM177 261h12v5h-12zM177 266h12v5h-12zM389 266h6v5h-6zM133 271h6v5h-6zM183 271h6v5h-6zM115 276h6v5h-6zM127 276h19v5h-19zM158 276h6v5h-6zM171 276h12v5h-12zM189 276h7v5h-7zM264 276h13v5h-13zM389 276h6v5h-6zM289 281h6v5h-6zM189 286h7v6h-7zM146 292h6v5h-6zM115 297h6v5h-6zM258 302h6v5h-6zM90 307h6v5h-6zM152 307h6v5h-6zM258 307h6v5h-6zM345 312h13v5h-13zM432 312h13v5h-13zM108 317h7v6h-7zM401 317h7v6h-7zM239 323h6v5h-6zM395 323h6v5h-6zM395 328h6v5h-6zM457 328h7v5h-7zM239 333h6v5h-6zM401 333h7v5h-7zM439 333h6v5h-6zM457 333h7v5h-7zM351 338h7v5h-7zM183 343h6v5h-6zM358 343h18v5h-18zM83 348h7v6h-7zM364 348h6v6h-6zM395 348h6v6h-6zM426 348h25v6h-25zM520 348h4v6h-4zM364 354h19v5h-19zM395 354h6v5h-6zM426 354h6v5h-6zM445 354h6v5h-6zM196 359h6v5h-6zM370 359h6v5h-6zM196 364h6v5h-6zM364 364h6v5h-6zM221 374h12v5h-12zM221 379h12v5h-12zM470 379h6v5h-6zM208 384h6v6h-6zM389 384h6v6h-6zM183 390h6v5h-6z"/><path fill="#5e01c0" d="M214 57h7v3h-7zM227 57h18v3h-18zM158 60h6v5h-6zM245 60h7v5h-7zM270 60h13v5h-13zM83 65h7v5h-7zM177 65h6v5h-6zM196 65h12v5h-12zM320 65h7v5h-7zM314 70h6v5h-6zM395 70h6v5h-6zM414 70h6v5h-6zM102 75h6v5h-6zM351 75h7v5h-7zM108 80h7v5h-7zM351 80h7v5h-7zM376 80h7v5h-7zM401 80h19v5h-19zM432 80h7v5h-7zM177 85h6v6h-6zM351 85h7v6h-7zM351 91h7v5h-7zM351 96h7v5h-7zM464 106h6v5h-6zM77 111h6v5h-6zM358 111h6v5h-6zM439 111h6v5h-6zM364 116h31v5h-31zM439 116h6v5h-6zM464 116h6v5h-6zM420 121h12v6h-12zM464 121h6v6h-6zM77 127h6v5h-6zM96 132h6v5h-6zM264 132h6v5h-6zM102 137h6v5h-6zM258 137h12v5h-12zM376 137h7v5h-7zM507 142h7v5h-7zM108 147h7v5h-7zM495 163h6v5h-6zM108 168h13v5h-13zM83 173h7v5h-7zM320 173h7v5h-7zM514 173h6v5h-6zM83 178h7v5h-7zM295 178h7v5h-7zM507 178h7v5h-7zM77 183h6v6h-6zM295 183h7v6h-7zM308 183h25v6h-25zM146 189h6v5h-6zM501 189h6v5h-6zM115 194h12v5h-12zM74 199h3v5h-3zM202 199h6v5h-6zM202 204h6v5h-6zM96 209h19v5h-19zM376 214h7v5h-7zM115 225h6v5h-6zM115 230h6v5h-6zM83 235h7v5h-7zM177 240h6v5h-6zM171 250h6v6h-6zM152 256h6v5h-6zM127 261h6v5h-6zM152 261h12v5h-12zM127 266h6v5h-6zM146 266h6v5h-6zM127 271h6v5h-6zM152 271h6v5h-6zM389 271h6v5h-6zM401 271h7v5h-7zM121 276h6v5h-6zM146 276h6v5h-6zM395 276h6v5h-6zM264 281h6v5h-6zM395 281h13v5h-13zM383 286h6v6h-6zM264 292h6v5h-6zM426 292h6v5h-6zM96 297h6v5h-6zM426 297h6v5h-6zM90 302h6v5h-6zM146 302h6v5h-6zM289 302h6v5h-6zM289 307h6v5h-6zM370 307h6v5h-6zM395 307h25v5h-25zM96 312h6v5h-6zM177 312h6v5h-6zM258 312h6v5h-6zM327 317h6v6h-6zM358 317h6v6h-6zM408 317h12v6h-12zM439 317h6v6h-6zM183 323h6v5h-6zM358 323h6v5h-6zM445 323h6v5h-6zM239 328h6v5h-6zM351 328h7v5h-7zM432 328h13v5h-13zM420 333h6v5h-6zM445 333h12v5h-12zM345 338h6v5h-6zM77 343h6v5h-6zM252 343h6v5h-6zM351 343h7v5h-7zM77 348h6v6h-6zM90 348h12v6h-12zM189 348h7v6h-7zM252 348h6v6h-6zM358 348h6v6h-6zM383 348h6v6h-6zM252 354h6v5h-6zM383 354h6v5h-6zM74 359h3v5h-3zM252 359h6v5h-6zM364 359h6v5h-6zM252 364h6v5h-6zM189 369h7v5h-7zM252 369h6v5h-6zM83 374h19v5h-19zM252 374h6v5h-6zM314 374h6v5h-6zM327 374h6v5h-6zM495 374h6v5h-6zM514 374h6v5h-6zM252 379h6v5h-6zM74 384h9v6h-9zM221 384h12v6h-12zM345 384h6v6h-6zM464 384h6v6h-6zM476 384h6v6h-6zM507 384h7v6h-7zM470 390h12v5h-12zM370 395h6v5h-6zM395 400h6v5h-6z"/><path fill="#6001c7" d="M158 57h6v3h-6zM245 57h7v3h-7zM177 60h6v5h-6zM252 60h18v5h-18zM295 60h7v5h-7zM320 60h7v5h-7zM339 60h6v5h-6zM74 65h3v5h-3zM152 65h6v5h-6zM345 65h6v5h-6zM146 70h6v5h-6zM351 70h7v5h-7zM420 70h19v5h-19zM507 70h7v5h-7zM133 75h6v5h-6zM383 75h6v5h-6zM439 75h6v5h-6zM489 80h6v5h-6zM376 85h19v6h-19zM495 85h6v6h-6zM451 101h19v5h-19zM358 106h6v5h-6zM439 106h6v5h-6zM395 116h6v5h-6zM74 121h3v6h-3zM470 127h6v5h-6zM514 132h6v5h-6zM514 137h6v5h-6zM90 163h12v5h-12zM121 163h6v5h-6zM83 168h7v5h-7zM333 183h6v6h-6zM74 194h3v5h-3zM152 194h6v5h-6zM183 194h6v5h-6zM90 204h6v5h-6zM127 214h6v5h-6zM196 214h6v5h-6zM183 225h6v5h-6zM177 230h6v5h-6zM115 235h6v5h-6zM177 235h6v5h-6zM115 240h6v5h-6zM164 256h7v5h-7zM408 281h6v5h-6zM264 297h6v5h-6zM289 297h6v5h-6zM264 302h6v5h-6zM146 307h6v5h-6zM264 307h6v5h-6zM102 312h13v5h-13zM152 312h12v5h-12zM289 312h6v5h-6zM115 317h6v6h-6zM320 317h7v6h-7zM420 317h6v6h-6zM115 323h6v5h-6zM439 323h6v5h-6zM177 328h6v5h-6zM401 328h7v5h-7zM426 328h6v5h-6zM245 333h7v5h-7zM345 333h6v5h-6zM252 338h6v5h-6zM345 343h6v5h-6zM189 354h7v5h-7zM358 354h6v5h-6zM358 359h6v5h-6zM102 374h6v5h-6zM302 374h6v5h-6zM320 374h7v5h-7zM501 374h13v5h-13zM520 374h4v5h-4zM177 379h6v5h-6zM295 379h7v5h-7zM83 384h7v6h-7zM252 384h6v6h-6zM295 384h7v6h-7zM514 384h10v6h-10zM208 390h6v5h-6zM233 390h6v5h-6zM482 390h7v5h-7zM196 395h6v5h-6zM426 395h6v5h-6zM451 395h6v5h-6zM389 400h6v5h-6zM401 400h7v5h-7z"/><path fill="#6301ce" d="M177 57h6v3h-6zM83 60h7v5h-7zM302 60h18v5h-18zM489 75h6v5h-6zM370 80h6v5h-6zM370 85h6v6h-6zM495 96h6v5h-6zM470 106h6v5h-6zM520 168h4v5h-4zM74 183h3v6h-3zM507 183h7v6h-7zM74 189h3v5h-3zM146 194h6v5h-6zM133 209h6v5h-6zM171 245h6v5h-6zM289 286h6v6h-6zM289 292h6v5h-6zM115 302h12v5h-12zM177 343h6v5h-6zM102 348h6v6h-6zM102 379h6v5h-6zM245 390h7v5h-7zM358 390h6v5h-6zM177 395h6v5h-6zM476 395h6v5h-6z"/><path fill="#6501d5" d="M74 116h3v5h-3zM127 183h6v6h-6zM127 189h6v5h-6zM127 194h6v5h-6zM139 194h7v5h-7zM171 199h6v5h-6zM339 343h6v5h-6z"/><path fill="#6701db" d="M333 390h6v5h-6z"/><path fill="#6a01e1" d="M320 204h7v5h-7zM451 250h6v6h-6z"/><path fill="#6c01e6" d="M83 214h7v5h-7zM327 240h6v5h-6zM108 245h7v5h-7zM189 281h7v5h-7zM383 384h6v6h-6zM464 390h6v5h-6z"/><path fill="#6e02ea" d="M177 91h6v5h-6zM258 132h6v5h-6zM370 132h6v5h-6zM383 132h6v5h-6zM270 137h7v5h-7zM239 152h13v6h-13zM90 199h6v5h-6zM383 214h6v5h-6zM83 240h7v5h-7zM152 266h6v5h-6zM401 266h7v5h-7zM177 271h6v5h-6zM426 302h6v5h-6zM74 343h3v5h-3zM520 343h4v5h-4zM74 348h3v6h-3zM389 354h6v5h-6zM351 384h7v6h-7z"/><path fill="#7002ef" d="M302 65h6v5h-6zM314 65h6v5h-6zM401 116h7v5h-7zM376 132h7v5h-7zM127 152h6v6h-6zM127 158h6v5h-6zM239 158h13v5h-13zM302 173h6v5h-6zM314 173h6v5h-6zM327 178h18v5h-18zM302 183h6v6h-6zM339 183h6v6h-6zM501 199h6v5h-6zM90 235h6v5h-6zM90 240h6v5h-6zM115 245h6v5h-6zM121 261h6v5h-6zM395 266h6v5h-6zM115 271h6v5h-6zM139 271h13v5h-13zM395 271h6v5h-6zM370 292h6v5h-6zM102 297h13v5h-13zM139 297h13v5h-13zM183 317h6v6h-6zM401 323h7v5h-7zM445 328h12v5h-12zM408 333h12v5h-12zM90 338h6v5h-6zM83 343h7v5h-7zM389 348h6v6h-6zM77 359h6v5h-6zM358 364h6v5h-6zM77 374h6v5h-6zM470 384h6v6h-6z"/><path fill="#7202f3" d="M277 57h68v3h-68zM77 60h6v5h-6zM208 60h6v5h-6zM90 65h6v5h-6zM183 65h13v5h-13zM308 65h6v5h-6zM520 65h4v5h-4zM489 85h6v6h-6zM495 91h6v5h-6zM358 101h6v5h-6zM445 101h6v5h-6zM520 101h4v5h-4zM408 116h6v5h-6zM432 116h7v5h-7zM501 127h13v5h-13zM102 142h6v5h-6zM501 147h6v5h-6zM115 152h12v6h-12zM495 152h6v6h-6zM495 158h6v5h-6zM102 163h6v5h-6zM115 163h6v5h-6zM501 163h13v5h-13zM308 173h6v5h-6zM77 178h6v5h-6zM127 178h6v5h-6zM320 178h7v5h-7zM196 194h6v5h-6zM501 194h6v5h-6zM96 199h19v5h-19zM507 199h7v5h-7zM520 199h4v5h-4zM96 204h6v5h-6zM115 204h18v5h-18zM196 209h6v5h-6zM121 219h6v6h-6zM189 219h7v6h-7zM121 245h6v5h-6zM158 256h6v5h-6zM115 266h6v5h-6zM121 271h6v5h-6zM270 281h7v5h-7zM283 281h6v5h-6zM420 281h6v5h-6zM389 286h6v6h-6zM376 292h7v5h-7zM370 297h6v5h-6zM96 302h6v5h-6zM370 302h6v5h-6zM96 307h6v5h-6zM376 307h19v5h-19zM164 312h13v5h-13zM345 317h13v6h-13zM426 317h13v6h-13zM245 323h7v5h-7zM351 323h7v5h-7zM432 323h7v5h-7zM115 328h6v5h-6zM420 328h6v5h-6zM108 333h7v5h-7zM252 333h6v5h-6zM96 338h6v5h-6zM90 343h6v5h-6zM183 348h6v6h-6zM351 348h7v6h-7zM102 354h6v5h-6zM83 359h13v5h-13zM189 359h7v5h-7zM345 364h13v5h-13zM514 364h6v5h-6zM495 369h6v5h-6zM74 374h3v5h-3zM177 384h6v6h-6zM177 390h6v5h-6zM227 390h6v5h-6zM364 395h6v5h-6zM383 400h6v5h-6zM408 400h6v5h-6z"/><path fill="#7402f6" d="M83 57h7v3h-7zM270 57h7v3h-7zM345 60h6v5h-6zM96 65h6v5h-6zM351 65h7v5h-7zM358 70h6v5h-6zM389 70h6v5h-6zM439 70h6v5h-6zM501 70h6v5h-6zM108 75h7v5h-7zM127 75h6v5h-6zM358 75h6v5h-6zM370 75h13v5h-13zM358 80h12v5h-12zM439 80h6v5h-6zM482 80h7v5h-7zM358 85h12v6h-12zM395 85h6v6h-6zM358 91h6v5h-6zM370 91h19v5h-19zM489 91h6v5h-6zM358 96h6v5h-6zM489 96h6v5h-6zM470 101h6v5h-6zM501 101h13v5h-13zM364 111h6v5h-6zM414 116h6v5h-6zM476 127h6v5h-6zM495 127h6v5h-6zM514 127h10v5h-10zM74 132h3v5h-3zM90 132h6v5h-6zM520 132h4v5h-4zM514 142h6v5h-6zM102 147h6v5h-6zM108 152h7v6h-7zM96 158h6v5h-6zM121 158h6v5h-6zM108 163h7v5h-7zM514 163h6v5h-6zM74 168h9v5h-9zM74 173h9v5h-9zM520 173h4v5h-4zM74 178h3v5h-3zM133 178h6v5h-6zM302 178h18v5h-18zM139 183h7v6h-7zM507 189h7v5h-7zM189 194h7v5h-7zM115 199h24v5h-24zM514 199h6v5h-6zM102 204h13v5h-13zM133 204h6v5h-6zM133 214h6v5h-6zM189 214h7v5h-7zM183 219h6v6h-6zM177 225h6v5h-6zM127 245h19v5h-19zM152 250h6v6h-6zM164 250h7v6h-7zM121 266h6v5h-6zM277 281h6v5h-6zM414 281h6v5h-6zM395 286h13v6h-13zM108 302h7v5h-7zM127 302h6v5h-6zM139 302h7v5h-7zM414 302h6v5h-6zM102 307h19v5h-19zM115 312h6v5h-6zM146 312h6v5h-6zM264 312h6v5h-6zM283 312h6v5h-6zM177 317h6v6h-6zM302 317h18v6h-18zM177 323h6v5h-6zM408 323h24v5h-24zM245 328h7v5h-7zM345 328h6v5h-6zM408 328h6v5h-6zM171 333h6v5h-6zM102 338h6v5h-6zM258 338h6v5h-6zM96 343h12v5h-12zM258 343h6v5h-6zM258 348h6v6h-6zM339 348h12v6h-12zM183 354h6v5h-6zM258 354h6v5h-6zM351 354h7v5h-7zM96 359h6v5h-6zM258 359h6v5h-6zM351 359h7v5h-7zM74 364h3v5h-3zM189 364h7v5h-7zM258 364h6v5h-6zM501 364h13v5h-13zM520 364h4v5h-4zM83 369h25v5h-25zM258 369h6v5h-6zM514 369h10v5h-10zM177 374h6v5h-6zM258 374h6v5h-6zM295 374h7v5h-7zM258 379h6v5h-6zM289 379h6v5h-6zM90 384h6v6h-6zM258 384h6v6h-6zM289 384h6v6h-6zM214 390h13v5h-13zM489 390h6v5h-6zM432 395h7v5h-7zM445 395h6v5h-6zM414 400h6v5h-6zM457 400h13v5h-13z"/><path fill="#7603f9" d="M77 57h6v3h-6zM208 57h6v3h-6zM345 57h6v3h-6zM152 60h6v5h-6zM358 65h12v5h-12zM139 70h7v5h-7zM364 70h6v5h-6zM364 75h6v5h-6zM445 75h6v5h-6zM432 85h7v6h-7zM482 85h7v6h-7zM364 91h6v5h-6zM389 91h6v5h-6zM482 91h7v5h-7zM364 96h6v5h-6zM376 96h13v5h-13zM476 96h13v5h-13zM439 101h6v5h-6zM476 101h6v5h-6zM495 101h6v5h-6zM514 101h6v5h-6zM74 106h3v5h-3zM383 111h6v5h-6zM470 111h6v5h-6zM420 116h12v5h-12zM470 121h6v6h-6zM489 127h6v5h-6zM83 132h7v5h-7zM96 137h6v5h-6zM507 147h7v5h-7zM102 152h6v6h-6zM501 152h6v6h-6zM90 158h6v5h-6zM102 158h19v5h-19zM501 158h6v5h-6zM83 163h7v5h-7zM520 163h4v5h-4zM514 178h6v5h-6zM507 194h7v5h-7zM139 199h7v5h-7zM164 199h7v5h-7zM196 199h6v5h-6zM196 204h6v5h-6zM121 225h6v5h-6zM121 240h6v5h-6zM171 240h6v5h-6zM146 245h6v5h-6zM270 286h7v6h-7zM383 292h6v5h-6zM376 297h7v5h-7zM102 302h6v5h-6zM376 302h38v5h-38zM283 307h6v5h-6zM270 312h13v5h-13zM258 317h6v6h-6zM289 317h13v6h-13zM345 323h6v5h-6zM414 328h6v5h-6zM115 333h6v5h-6zM258 333h12v5h-12zM108 338h7v5h-7zM171 338h6v5h-6zM264 338h6v5h-6zM108 343h7v5h-7zM264 343h13v5h-13zM108 348h7v6h-7zM177 348h6v6h-6zM264 348h13v6h-13zM108 354h7v5h-7zM264 354h13v5h-13zM345 354h6v5h-6zM102 359h6v5h-6zM264 359h13v5h-13zM345 359h6v5h-6zM77 364h31v5h-31zM264 364h13v5h-13zM74 369h9v5h-9zM183 369h6v5h-6zM264 369h13v5h-13zM333 369h6v5h-6zM507 369h7v5h-7zM108 374h7v5h-7zM264 374h13v5h-13zM171 379h6v5h-6zM264 379h25v5h-25zM171 384h6v6h-6zM277 384h12v6h-12zM171 390h6v5h-6zM252 390h6v5h-6zM327 390h6v5h-6zM171 395h6v5h-6zM202 395h6v5h-6zM358 395h6v5h-6zM439 395h6v5h-6zM177 400h12v5h-12zM376 400h7v5h-7zM470 400h6v5h-6z"/><path fill="#7803fb" d="M74 60h3v5h-3zM90 60h6v5h-6zM202 60h6v5h-6zM102 65h6v5h-6zM146 65h6v5h-6zM401 65h13v5h-13zM514 65h6v5h-6zM370 70h6v5h-6zM445 70h6v5h-6zM495 70h6v5h-6zM121 75h6v5h-6zM401 85h7v6h-7zM420 85h12v6h-12zM439 85h6v6h-6zM476 85h6v6h-6zM476 91h6v5h-6zM370 96h6v5h-6zM389 96h6v5h-6zM464 96h12v5h-12zM482 101h13v5h-13zM389 111h6v5h-6zM432 111h7v5h-7zM470 116h6v5h-6zM507 121h7v6h-7zM482 127h7v5h-7zM77 132h6v5h-6zM520 137h4v5h-4zM96 142h6v5h-6zM96 147h6v5h-6zM96 152h6v6h-6zM507 158h7v5h-7zM139 189h7v5h-7zM133 194h6v5h-6zM177 199h6v5h-6zM121 230h6v5h-6zM158 250h6v6h-6zM383 297h6v5h-6zM420 297h6v5h-6zM133 302h6v5h-6zM139 307h7v5h-7zM270 307h7v5h-7zM139 312h7v5h-7zM146 317h31v6h-31zM283 317h6v6h-6zM333 323h6v5h-6zM171 328h6v5h-6zM252 328h6v5h-6zM115 338h6v5h-6zM339 338h6v5h-6zM115 343h6v5h-6zM177 354h6v5h-6zM339 354h6v5h-6zM108 359h7v5h-7zM183 359h6v5h-6zM108 364h7v5h-7zM339 364h6v5h-6zM108 369h7v5h-7zM308 369h6v5h-6zM277 374h6v5h-6zM96 384h6v6h-6zM164 384h7v6h-7zM264 384h13v6h-13zM302 390h25v5h-25zM339 390h6v5h-6zM351 390h7v5h-7zM495 390h6v5h-6zM189 400h7v5h-7zM370 400h6v5h-6zM420 400h6v5h-6z"/><path fill="#7a03fd" d="M351 57h7v3h-7zM358 60h6v5h-6zM370 65h6v5h-6zM414 65h6v5h-6zM108 70h7v5h-7zM376 70h7v5h-7zM482 75h7v5h-7zM445 80h6v5h-6zM476 80h6v5h-6zM408 85h12v6h-12zM457 96h7v5h-7zM364 101h6v5h-6zM383 101h6v5h-6zM364 106h6v5h-6zM370 111h13v5h-13zM514 121h10v6h-10zM520 142h4v5h-4zM139 204h7v5h-7zM189 209h7v5h-7zM183 214h6v5h-6zM171 235h6v5h-6zM152 245h6v5h-6zM408 286h6v6h-6zM270 292h7v5h-7zM401 292h7v5h-7zM420 292h6v5h-6zM139 317h7v6h-7zM277 317h6v6h-6zM121 323h6v5h-6zM258 328h6v5h-6zM339 328h6v5h-6zM270 338h7v5h-7zM115 348h6v6h-6zM302 369h6v5h-6zM289 374h6v5h-6zM108 379h7v5h-7zM164 379h7v5h-7zM74 390h9v5h-9zM164 390h7v5h-7zM258 390h6v5h-6zM295 390h7v5h-7zM345 390h6v5h-6zM501 390h6v5h-6zM233 395h6v5h-6zM482 395h7v5h-7zM171 400h6v5h-6zM364 400h6v5h-6zM451 400h6v5h-6zM395 405h13v5h-13z"/><path fill="#7c03fe" d="M90 57h6v3h-6zM152 57h6v3h-6zM196 60h6v5h-6zM364 60h6v5h-6zM395 65h6v5h-6zM389 101h6v5h-6zM432 106h7v5h-7zM476 106h6v5h-6zM395 111h6v5h-6zM520 158h4v5h-4zM77 163h6v5h-6zM139 209h7v5h-7zM177 219h6v6h-6zM171 230h6v5h-6zM414 297h6v5h-6zM270 302h7v5h-7zM283 302h6v5h-6zM277 307h6v5h-6zM121 317h6v6h-6zM121 328h6v5h-6zM264 328h6v5h-6zM339 333h6v5h-6zM339 359h6v5h-6zM277 369h6v5h-6zM277 390h18v5h-18zM507 390h7v5h-7zM227 395h6v5h-6zM358 400h6v5h-6z"/><path fill="#7e04ff" d="M74 57h3v3h-3zM376 101h7v5h-7zM401 111h7v5h-7zM501 121h6v6h-6zM139 214h7v5h-7zM270 297h7v5h-7zM121 312h6v5h-6zM270 333h7v5h-7zM333 348h6v6h-6zM177 359h6v5h-6zM277 364h6v5h-6zM221 395h6v5h-6z"/><path fill="#8004ff" d="M252 57h6v3h-6zM108 65h7v5h-7zM408 111h6v5h-6zM507 116h7v5h-7zM283 297h6v5h-6zM420 302h6v5h-6zM277 343h6v5h-6zM277 348h6v6h-6zM277 354h6v5h-6zM277 359h6v5h-6z"/><path fill="#8104ff" d="M264 57h6v3h-6zM370 60h6v5h-6zM171 225h6v5h-6zM339 323h6v5h-6zM270 328h7v5h-7zM333 343h6v5h-6z"/><path fill="#8305fe" d="M258 57h6v3h-6zM351 60h7v5h-7zM520 194h4v5h-4zM146 199h6v5h-6zM158 199h6v5h-6zM127 219h6v6h-6zM121 235h6v5h-6zM252 323h6v5h-6zM171 343h6v5h-6zM333 354h6v5h-6z"/><path fill="#8505fd" d="M383 70h6v5h-6zM115 75h6v5h-6zM74 111h3v5h-3zM514 147h6v5h-6zM507 152h7v6h-7zM514 158h6v5h-6zM520 178h4v5h-4zM514 183h6v6h-6zM520 189h4v5h-4zM514 194h6v5h-6zM152 199h6v5h-6zM389 292h12v5h-12zM389 297h6v5h-6zM401 297h7v5h-7zM121 307h6v5h-6zM171 323h6v5h-6zM351 400h7v5h-7z"/><path fill="#8706fb" d="M420 65h6v5h-6zM395 91h6v5h-6zM439 91h6v5h-6zM439 96h18v5h-18zM383 106h6v5h-6zM90 152h6v6h-6zM514 152h6v6h-6zM83 158h7v5h-7zM514 189h6v5h-6zM133 219h6v6h-6zM127 240h6v5h-6zM164 245h7v5h-7zM283 286h6v6h-6zM395 297h6v5h-6zM408 297h6v5h-6zM327 323h6v5h-6zM171 348h6v6h-6zM115 364h6v5h-6zM183 364h6v5h-6zM115 369h6v5h-6zM314 369h6v5h-6zM327 369h6v5h-6zM283 374h6v5h-6zM164 395h7v5h-7zM208 395h6v5h-6zM239 395h6v5h-6zM389 405h6v5h-6z"/><path fill="#8806f9" d="M426 65h19v5h-19zM507 65h7v5h-7zM133 70h6v5h-6zM489 70h6v5h-6zM470 91h6v5h-6zM389 106h6v5h-6zM501 106h6v5h-6zM90 147h6v5h-6zM520 147h4v5h-4zM74 163h3v5h-3zM183 199h6v5h-6zM127 225h6v5h-6zM133 240h6v5h-6zM277 286h6v6h-6zM408 292h6v5h-6zM264 317h6v6h-6zM115 354h6v5h-6zM171 354h6v5h-6zM115 359h6v5h-6zM320 369h7v5h-7zM115 374h6v5h-6zM171 374h6v5h-6zM102 384h6v6h-6zM158 384h6v6h-6zM83 390h7v5h-7zM158 390h6v5h-6zM264 390h13v5h-13zM520 390h4v5h-4zM164 400h7v5h-7zM196 400h6v5h-6zM426 400h6v5h-6zM476 400h6v5h-6zM408 405h6v5h-6z"/><path fill="#8a06f6" d="M183 57h6v3h-6zM358 57h6v3h-6zM189 60h7v5h-7zM520 60h4v5h-4zM445 65h6v5h-6zM451 70h6v5h-6zM476 75h6v5h-6zM445 85h6v6h-6zM432 91h7v5h-7zM432 101h7v5h-7zM495 106h6v5h-6zM507 106h7v5h-7zM476 121h6v6h-6zM520 152h4v6h-4zM189 204h7v5h-7zM127 235h6v5h-6zM139 240h13v5h-13zM270 317h7v6h-7zM139 323h7v5h-7zM283 323h12v5h-12zM121 333h6v5h-6zM121 338h6v5h-6zM164 338h7v5h-7zM121 343h6v5h-6zM164 343h7v5h-7zM177 369h6v5h-6zM295 369h7v5h-7zM514 390h6v5h-6zM158 395h6v5h-6zM214 395h7v5h-7zM245 395h7v5h-7zM177 405h6v5h-6zM457 405h7v5h-7z"/><path fill="#8c07f3" d="M389 65h6v5h-6zM451 65h6v5h-6zM127 70h6v5h-6zM445 91h6v5h-6zM395 96h6v5h-6zM432 96h7v5h-7zM414 111h6v5h-6zM83 152h7v6h-7zM146 204h6v5h-6zM183 209h6v5h-6zM139 219h7v6h-7zM152 240h6v5h-6zM146 323h6v5h-6zM277 323h6v5h-6zM295 323h7v5h-7zM320 323h7v5h-7zM164 333h7v5h-7zM121 348h6v6h-6zM164 348h7v6h-7zM121 364h6v5h-6zM121 369h6v5h-6zM501 369h6v5h-6zM158 379h6v5h-6zM146 390h12v5h-12zM171 405h6v5h-6zM183 405h6v5h-6zM383 405h6v5h-6zM414 405h6v5h-6zM464 405h6v5h-6z"/><path fill="#8d07ef" d="M451 75h6v5h-6zM470 85h6v6h-6zM482 106h13v5h-13zM420 111h6v5h-6zM495 121h6v6h-6zM158 204h6v5h-6zM133 323h6v5h-6zM308 323h6v5h-6zM164 328h7v5h-7zM115 379h6v5h-6z"/><path fill="#8f08ea" d="M470 80h6v5h-6zM395 101h6v5h-6zM514 116h6v5h-6zM177 214h6v5h-6zM420 286h6v6h-6zM133 312h6v5h-6zM451 405h6v5h-6z"/><path fill="#9108e6" d="M183 60h6v5h-6zM133 183h6v6h-6zM520 183h4v6h-4zM277 338h6v5h-6zM139 384h7v6h-7z"/><path fill="#9209e1" d="M202 57h6v3h-6zM451 80h6v5h-6zM74 137h3v5h-3zM90 137h6v5h-6zM189 199h7v5h-7zM258 323h6v5h-6zM139 390h7v5h-7z"/><path fill="#940adb" d="M457 70h7v5h-7zM370 101h6v5h-6zM520 106h4v5h-4zM127 230h6v5h-6zM158 245h6v5h-6zM414 286h6v6h-6zM164 323h7v5h-7zM139 379h7v5h-7z"/><path fill="#950ad5" d="M96 60h6v5h-6zM426 111h6v5h-6zM77 137h13v5h-13zM74 142h3v5h-3zM90 142h6v5h-6zM133 225h6v5h-6zM127 307h6v5h-6zM333 364h6v5h-6z"/><path fill="#970bce" d="M146 60h6v5h-6zM139 65h7v5h-7zM501 65h6v5h-6zM514 106h6v5h-6zM74 147h3v5h-3zM83 147h7v5h-7zM152 204h6v5h-6zM164 204h7v5h-7zM164 240h7v5h-7zM152 323h12v5h-12zM302 323h6v5h-6zM314 323h6v5h-6zM164 354h7v5h-7zM171 359h6v5h-6zM164 374h7v5h-7zM146 384h12v6h-12zM90 390h6v5h-6zM152 395h6v5h-6zM252 395h6v5h-6zM489 395h6v5h-6zM158 400h6v5h-6zM445 400h6v5h-6zM376 405h7v5h-7z"/><path fill="#980cc7" d="M102 60h6v5h-6zM514 60h6v5h-6zM482 70h7v5h-7zM464 91h6v5h-6zM501 111h13v5h-13zM77 142h13v5h-13zM77 147h6v5h-6zM74 152h9v6h-9zM171 204h6v5h-6zM139 225h7v5h-7zM133 230h6v5h-6zM133 235h6v5h-6zM152 235h6v5h-6zM133 317h6v6h-6zM127 323h6v5h-6zM333 328h6v5h-6zM121 359h6v5h-6zM164 359h7v5h-7zM127 364h6v5h-6zM171 369h6v5h-6zM289 369h6v5h-6zM121 374h6v5h-6zM108 384h7v6h-7zM146 395h6v5h-6zM258 395h6v5h-6zM277 395h6v5h-6zM202 400h6v5h-6zM432 400h7v5h-7zM482 400h7v5h-7zM164 405h7v5h-7zM358 405h18v5h-18z"/><path fill="#9a0cc0" d="M383 65h6v5h-6zM495 65h6v5h-6zM489 121h6v6h-6zM158 348h6v6h-6zM171 364h6v5h-6zM308 364h6v5h-6zM127 369h6v5h-6zM158 374h6v5h-6zM96 390h6v5h-6zM264 395h13v5h-13zM152 400h6v5h-6zM189 405h7v5h-7zM420 405h6v5h-6zM470 405h6v5h-6zM395 410h13v5h-13z"/><path fill="#9b0db8" d="M108 60h7v5h-7zM121 70h6v5h-6zM139 230h19v5h-19zM158 235h6v5h-6zM133 328h6v5h-6zM158 343h6v5h-6zM158 354h6v5h-6zM164 364h7v5h-7zM439 400h6v5h-6zM158 405h6v5h-6z"/><path fill="#9d0eb0" d="M376 60h7v5h-7zM457 65h7v5h-7zM470 75h6v5h-6zM426 101h6v5h-6zM495 111h6v5h-6zM127 359h6v5h-6zM302 364h6v5h-6zM74 395h3v5h-3z"/><path fill="#9e0fa8" d="M158 230h6v5h-6zM127 343h6v5h-6zM127 348h6v6h-6zM139 395h7v5h-7zM351 405h7v5h-7z"/><path fill="#a00f9f" d="M401 60h19v5h-19zM432 60h19v5h-19zM158 338h6v5h-6z"/><path fill="#a11096" d="M420 101h6v5h-6zM133 364h6v5h-6zM277 400h6v5h-6z"/><path fill="#a7146f" d="M196 57h6v3h-6zM115 60h6v5h-6zM395 60h6v5h-6zM420 60h12v5h-12zM451 60h6v5h-6zM507 60h7v5h-7zM133 65h6v5h-6zM376 65h7v5h-7zM489 65h6v5h-6zM115 70h6v5h-6zM476 70h6v5h-6zM401 91h31v5h-31zM451 91h13v5h-13zM401 96h7v5h-7zM414 101h6v5h-6zM376 106h7v5h-7zM476 111h6v5h-6zM476 116h6v5h-6zM482 121h7v6h-7zM77 158h6v5h-6zM177 204h6v5h-6zM152 209h12v5h-12zM146 214h6v5h-6zM146 219h6v6h-6zM171 219h6v6h-6zM146 225h6v5h-6zM164 230h7v5h-7zM146 235h6v5h-6zM277 292h12v5h-12zM133 307h6v5h-6zM264 323h6v5h-6zM127 328h6v5h-6zM139 328h13v5h-13zM277 328h18v5h-18zM327 328h6v5h-6zM127 333h6v5h-6zM152 348h6v6h-6zM121 354h6v5h-6zM152 359h12v5h-12zM152 364h12v5h-12zM314 364h6v5h-6zM327 364h6v5h-6zM133 369h6v5h-6zM152 369h6v5h-6zM164 369h7v5h-7zM283 369h6v5h-6zM127 374h6v5h-6zM152 374h6v5h-6zM121 379h6v5h-6zM146 379h12v5h-12zM115 384h6v6h-6zM102 390h6v5h-6zM77 395h13v5h-13zM283 395h75v5h-75zM495 395h6v5h-6zM139 400h13v5h-13zM208 400h6v5h-6zM227 400h25v5h-25zM283 400h12v5h-12zM489 400h6v5h-6zM139 405h19v5h-19zM196 405h6v5h-6zM426 405h6v5h-6zM476 405h6v5h-6zM158 410h25v5h-25zM383 410h12v5h-12zM408 410h6v5h-6zM451 410h13v5h-13z"/><path fill="#b72300" d="M96 57h25v3h-25zM139 57h13v3h-13zM189 57h7v3h-7zM364 57h93v3h-93zM501 57h23v3h-23zM139 60h7v5h-7zM389 60h6v5h-6zM457 60h7v5h-7zM495 60h12v5h-12zM127 65h6v5h-6zM476 65h13v5h-13zM464 70h12v5h-12zM451 85h6v6h-6zM426 96h6v5h-6zM370 106h6v5h-6zM395 106h31v5h-31zM514 111h10v5h-10zM495 116h12v5h-12zM74 158h3v5h-3zM133 189h6v5h-6zM183 204h6v5h-6zM146 209h6v5h-6zM164 209h19v5h-19zM152 225h6v5h-6zM164 225h7v5h-7zM139 235h7v5h-7zM164 235h7v5h-7zM158 240h6v5h-6zM414 292h6v5h-6zM127 312h6v5h-6zM270 323h7v5h-7zM152 328h12v5h-12zM295 328h32v5h-32zM133 333h6v5h-6zM333 333h6v5h-6zM127 338h6v5h-6zM333 338h6v5h-6zM283 343h12v5h-12zM327 343h6v5h-6zM327 348h6v6h-6zM127 354h12v5h-12zM152 354h6v5h-6zM283 359h6v5h-6zM308 359h31v5h-31zM146 364h6v5h-6zM177 364h6v5h-6zM283 364h19v5h-19zM320 364h7v5h-7zM139 369h13v5h-13zM158 369h6v5h-6zM133 374h19v5h-19zM127 379h12v5h-12zM121 384h12v6h-12zM108 390h13v5h-13zM90 395h18v5h-18zM501 395h23v5h-23zM74 400h3v5h-3zM214 400h13v5h-13zM252 400h18v5h-18zM295 400h44v5h-44zM202 405h6v5h-6zM277 405h6v5h-6zM482 405h7v5h-7zM139 410h19v5h-19zM183 410h13v5h-13zM351 410h32v5h-32zM414 410h12v5h-12zM464 410h12v5h-12zM139 415h50v4h-50zM364 415h56v4h-56zM451 415h13v4h-13z"/><path fill="#c83b00" d="M121 57h18v3h-18zM482 57h19v3h-19zM127 60h12v5h-12zM383 60h6v5h-6zM476 60h19v5h-19zM115 65h12v5h-12zM464 65h12v5h-12zM457 80h13v5h-13zM457 85h13v6h-13zM408 96h18v5h-18zM401 101h13v5h-13zM426 106h6v5h-6zM489 111h6v5h-6zM482 116h13v5h-13zM152 214h25v5h-25zM158 225h6v5h-6zM277 297h6v5h-6zM277 302h6v5h-6zM127 317h6v6h-6zM139 333h25v5h-25zM277 333h56v5h-56zM133 338h6v5h-6zM283 338h12v5h-12zM327 338h6v5h-6zM295 343h25v5h-25zM283 348h25v6h-25zM283 354h6v5h-6zM308 354h25v5h-25zM133 359h6v5h-6zM146 359h6v5h-6zM289 359h19v5h-19zM133 384h6v6h-6zM121 390h18v5h-18zM108 395h13v5h-13zM77 400h31v5h-31zM270 400h7v5h-7zM339 400h12v5h-12zM495 400h29v5h-29zM74 405h3v5h-3zM208 405h56v5h-56zM283 405h68v5h-68zM432 405h19v5h-19zM489 405h12v5h-12zM196 410h12v5h-12zM345 410h6v5h-6zM426 410h25v5h-25zM476 410h19v5h-19zM189 415h50v4h-50zM345 415h19v4h-19zM420 415h19v4h-19zM445 415h6v4h-6zM464 415h25v4h-25z"/><path fill="#db6600" d="M457 57h25v3h-25zM121 60h6v5h-6zM464 60h12v5h-12zM457 75h13v5h-13zM482 111h7v5h-7zM520 116h4v5h-4zM152 219h19v6h-19zM139 338h19v5h-19zM295 338h32v5h-32zM133 343h6v5h-6zM133 348h6v6h-6zM308 348h19v6h-19zM289 354h19v5h-19zM139 364h7v5h-7zM121 395h18v5h-18zM108 400h19v5h-19zM77 405h31v5h-31zM264 405h13v5h-13zM501 405h23v5h-23zM74 410h16v5h-16zM208 410h56v5h-56zM277 410h68v5h-68zM495 410h19v5h-19zM239 415h19v4h-19zM295 415h38v4h-38zM439 415h6v4h-6zM489 415h18v4h-18z"/><path fill="#eb9d00" d="M139 343h19v5h-19zM320 343h7v5h-7zM139 348h13v6h-13zM127 400h12v5h-12zM108 405h19v5h-19zM90 410h18v5h-18zM264 410h13v5h-13zM514 410h10v5h-10zM74 415h16v4h-16zM258 415h37v4h-37zM333 415h12v4h-12zM507 415h13v4h-13z"/><path fill="#f6cc00" d="M139 354h7v5h-7zM127 405h12v5h-12zM108 410h7v5h-7zM90 415h18v4h-18zM520 415h4v4h-4z"/><path fill="#ffff00" d="M146 354h6v5h-6zM139 359h7v5h-7zM115 410h24v5h-24zM108 415h31v4h-31z"/></g>
<g shape-rendering="crispEdges"><rect x="535" y="57.00" width="22" height="3.33" fill="#fffc00"/><rect x="535" y="59.83" width="22" height="3.33" fill="#fef600"/><rect x="535" y="62.66" width="22" height="3.33" fill="#fcf000"/><rect x="535" y="65.48" width="22" height="3.33" fill="#fbeb00"/><rect x="535" y="68.31" width="22" height="3.33" fill="#fae500"/><rect x="535" y="71.14" width="22" height="3.33" fill="#f9e000"/><rect x="535" y="73.97" width="22" height="3.33" fill="#f8da00"/><rect x="535" y="76.80" width="22" height="3.33" fill="#f7d500"/><rect x="535" y="79.62" width="22" height="3.33" fill="#f6cf00"/><rect x="535" y="82.45" width="22" height="3.33" fill="#f5ca00"/><rect x="535" y="85.28" width="22" height="3.33" fill="#f4c500"/><rect x="535" y="88.11" width="22" height="3.33" fill="#f3c000"/><rect x="535" y="90.94" width="22" height="3.33" fill="#f2bb00"/><rect x="535" y="93.77" width="22" height="3.33" fill="#f1b700"/><rect x="535" y="96.59" width="22" height="3.33" fill="#f0b200"/><rect x="535" y="99.42" width="22" height="3.33" fill="#efad00"/><rect x="535" y="102.25" width="22" height="3.33" fill="#eea900"/><rect x="535" y="105.08" width="22" height="3.33" fill="#eda400"/><rect x="535" y="107.91" width="22" height="3.33" fill="#eca000"/><rect x="535" y="110.73" width="22" height="3.33" fill="#eb9b00"/><rect x="535" y="113.56" width="22" height="3.33" fill="#ea9700"/><rect x="535" y="116.39" width="22" height="3.33" fill="#e99300"/><rect x="535" y="119.22" width="22" height="3.33" fill="#e88f00"/><rect x="535" y="122.05" width="22" height="3.33" fill="#e68b00"/><rect x="535" y="124.88" width="22" height="3.33" fill="#e58700"/><rect x="535" y="127.70" width="22" height="3.33" fill="#e48300"/><rect x="535" y="130.53" width="22" height="3.33" fill="#e37f00"/><rect x="535" y="133.36" width="22" height="3.33" fill="#e27b00"/><rect x="535" y="136.19" width="22" height="3.33" fill="#e17800"/><rect x="535" y="139.02" width="22" height="3.33" fill="#e07400"/><rect x="535" y="141.84" width="22" height="3.33" fill="#df7100"/><rect x="535" y="144.67" width="22" height="3.33" fill="#dd6d00"/><rect x="535" y="147.50" width="22" height="3.33" fill="#dc6a00"/><rect x="535" y="150.33" width="22" height="3.33" fill="#db6700"/><rect x="535" y="153.16" width="22" height="3.33" fill="#da6300"/><rect x="535" y="155.98" width="22" height="3.33" fill="#d96000"/><rect x="535" y="158.81" width="22" height="3.33" fill="#d85d00"/><rect x="535" y="161.64" width="22" height="3.33" fill="#d65a00"/><rect x="535" y="164.47" width="22" height="3.33" fill="#d55700"/><rect x="535" y="167.30" width="22" height="3.33" fill="#d45400"/><rect x="535" y="170.12" width="22" height="3.33" fill="#d35100"/><rect x="535" y="172.95" width="22" height="3.33" fill="#d24f00"/><rect x="535" y="175.78" width="22" height="3.33" fill="#d04c00"/><rect x="535" y="178.61" width="22" height="3.33" fill="#cf4900"/><rect x="535" y="181.44" width="22" height="3.33" fill="#ce4700"/><rect x="535" y="184.27" width="22" height="3.33" fill="#cd4400"/><rect x="535" y="187.09" width="22" height="3.33" fill="#cb4200"/><rect x="535" y="189.92" width="22" height="3.33" fill="#ca3f00"/><rect x="535" y="192.75" width="22" height="3.33" fill="#c93d00"/><rect x="535" y="195.58" width="22" height="3.33" fill="#c83b00"/><rect x="535" y="198.41" width="22" height="3.33" fill="#c63900"/><rect x="535" y="201.23" width="22" height="3.33" fill="#c53600"/><rect x="535" y="204.06" width="22" height="3.33" fill="#c43400"/><rect x="535" y="206.89" width="22" height="3.33" fill="#c33200"/><rect x="535" y="209.72" width="22" height="3.33" fill="#c13000"/><rect x="535" y="212.55" width="22" height="3.33" fill="#c02e00"/><rect x="535" y="215.38" width="22" height="3.33" fill="#bf2c00"/><rect x="535" y="218.20" width="22" height="3.33" fill="#bd2b00"/><rect x="535" y="221.03" width="22" height="3.33" fill="#bc2900"/><rect x="535" y="223.86" width="22" height="3.33" fill="#bb2700"/><rect x="535" y="226.69" width="22" height="3.33" fill="#b92500"/><rect x="535" y="229.52" width="22" height="3.33" fill="#b82400"/><rect x="535" y="232.34" width="22" height="3.33" fill="#b62200"/><rect x="535" y="235.17" width="22" height="3.33" fill="#b52100"/><rect x="535" y="238.00" width="22" height="3.33" fill="#b41f06"/><rect x="535" y="240.83" width="22" height="3.33" fill="#b21e13"/><rect x="535" y="243.66" width="22" height="3.33" fill="#b11c1f"/><rect x="535" y="246.48" width="22" height="3.33" fill="#af1b2c"/><rect x="535" y="249.31" width="22" height="3.33" fill="#ae1a38"/><rect x="535" y="252.14" width="22" height="3.33" fill="#ac1844"/><rect x="535" y="254.97" width="22" height="3.33" fill="#ab1750"/><rect x="535" y="257.80" width="22" height="3.33" fill="#a9165c"/><rect x="535" y="260.62" width="22" height="3.33" fill="#a81567"/><rect x="535" y="263.45" width="22" height="3.33" fill="#a61473"/><rect x="535" y="266.28" width="22" height="3.33" fill="#a5137e"/><rect x="535" y="269.11" width="22" height="3.33" fill="#a31288"/><rect x="535" y="271.94" width="22" height="3.33" fill="#a21193"/><rect x="535" y="274.77" width="22" height="3.33" fill="#a0109d"/><rect x="535" y="277.59" width="22" height="3.33" fill="#9f0fa7"/><rect x="535" y="280.42" width="22" height="3.33" fill="#9d0eb0"/><rect x="535" y="283.25" width="22" height="3.33" fill="#9b0db9"/><rect x="535" y="286.08" width="22" height="3.33" fill="#9a0cc1"/><rect x="535" y="288.91" width="22" height="3.33" fill="#980bc9"/><rect x="535" y="291.73" width="22" height="3.33" fill="#960bd0"/><rect x="535" y="294.56" width="22" height="3.33" fill="#950ad7"/><rect x="535" y="297.39" width="22" height="3.33" fill="#9309de"/><rect x="535" y="300.22" width="22" height="3.33" fill="#9109e4"/><rect x="535" y="303.05" width="22" height="3.33" fill="#8f08e9"/><rect x="535" y="305.88" width="22" height="3.33" fill="#8e07ee"/><rect x="535" y="308.70" width="22" height="3.33" fill="#8c07f2"/><rect x="535" y="311.53" width="22" height="3.33" fill="#8a06f6"/><rect x="535" y="314.36" width="22" height="3.33" fill="#8806f9"/><rect x="535" y="317.19" width="22" height="3.33" fill="#8605fb"/><rect x="535" y="320.02" width="22" height="3.33" fill="#8405fd"/><rect x="535" y="322.84" width="22" height="3.33" fill="#8205fe"/><rect x="535" y="325.67" width="22" height="3.33" fill="#8004ff"/><rect x="535" y="328.50" width="22" height="3.33" fill="#7e04ff"/><rect x="535" y="331.33" width="22" height="3.33" fill="#7c03fe"/><rect x="535" y="334.16" width="22" height="3.33" fill="#7a03fd"/><rect x="535" y="336.98" width="22" height="3.33" fill="#7803fb"/><rect x="535" y="339.81" width="22" height="3.33" fill="#7603f9"/><rect x="535" y="342.64" width="22" height="3.33" fill="#7402f6"/><rect x="535" y="345.47" width="22" height="3.33" fill="#7202f2"/><rect x="535" y="348.30" width="22" height="3.33" fill="#7002ee"/><rect x="535" y="351.12" width="22" height="3.33" fill="#6d02e9"/><rect x="535" y="353.95" width="22" height="3.33" fill="#6b01e4"/><rect x="535" y="356.78" width="22" height="3.33" fill="#6901de"/><rect x="535" y="359.61" width="22" height="3.33" fill="#6601d7"/><rect x="535" y="362.44" width="22" height="3.33" fill="#6401d0"/><rect x="535" y="365.27" width="22" height="3.33" fill="#6101c9"/><rect x="535" y="368.09" width="22" height="3.33" fill="#5e01c1"/><rect x="535" y="370.92" width="22" height="3.33" fill="#5c01b9"/><rect x="535" y="373.75" width="22" height="3.33" fill="#5900b0"/><rect x="535" y="376.58" width="22" height="3.33" fill="#5600a7"/><rect x="535" y="379.41" width="22" height="3.33" fill="#53009d"/><rect x="535" y="382.23" width="22" height="3.33" fill="#500093"/><rect x="535" y="385.06" width="22" height="3.33" fill="#4c0088"/><rect x="535" y="387.89" width="22" height="3.33" fill="#49007e"/><rect x="535" y="390.72" width="22" height="3.33" fill="#450073"/><rect x="535" y="393.55" width="22" height="3.33" fill="#420067"/><rect x="535" y="396.38" width="22" height="3.33" fill="#3e005c"/><rect x="535" y="399.20" width="22" height="3.33" fill="#390050"/><rect x="535" y="402.03" width="22" height="3.33" fill="#350044"/><rect x="535" y="404.86" width="22" height="3.33" fill="#300038"/><rect x="535" y="407.69" width="22" height="3.33" fill="#2a002c"/><rect x="535" y="410.52" width="22" height="3.33" fill="#24001f"/><rect x="535" y="413.34" width="22" height="3.33" fill="#1c0013"/><rect x="535" y="416.17" width="22" height="3.33" fill="#100006"/></g>
<g fill="none" stroke="#40e0d0" stroke-width="1" shape-rendering="crispEdges"><path d="M89.0 102.4L91.5 96.6L96.4 93.1L103.3 90.6L111.4 92.3L122.6 93.9L130.1 95.2L138.8 93.1L145.1 94.1L155.1 96.2L163.8 97.2L173.8 97.2L178.7 96.2L181.2 90.0L186.2 95.2L192.5 94.1L196.2 97.2L197.4 101.4L190.0 104.4L182.5 109.6L180.6 115.8L183.1 119.9L188.7 120.9L195.6 124.0L196.2 129.2L199.3 131.3L199.9 125.1L202.4 119.9L201.2 115.8L201.8 108.6L207.4 109.6L211.2 111.7L211.8 116.2L216.2 116.8L218.0 113.1L221.1 118.9L223.6 124.0L228.6 129.2L224.9 134.4L217.4 134.4L214.9 136.4L211.2 140.5L217.4 137.5L218.0 141.6L222.4 143.6L216.8 147.8L214.9 144.7L211.2 147.8L210.5 151.5L206.2 154.0L204.3 160.1L203.7 165.3L201.2 167.4L197.4 172.5L198.7 181.8L198.1 185.9L196.2 182.8L195.2 177.7L193.1 175.6L188.7 175.0L186.8 177.3L184.4 176.6L181.2 176.6L177.5 180.8L176.9 188.0L176.9 194.2L178.7 198.3L180.6 199.7L185.0 198.9L185.6 194.2L190.0 193.1L188.7 200.4L188.1 204.5L193.7 204.9L194.6 208.6L194.1 214.8L196.2 218.9L199.3 217.9L201.8 220.0L202.4 221.0L204.9 215.2L208.7 212.7L209.3 215.2L211.2 212.7L213.7 215.8L218.6 215.8L221.1 215.6L223.6 220.0L227.4 225.1L231.1 225.5L234.2 228.2L236.1 235.4L236.1 238.5L238.6 239.6L243.0 242.7L248.6 243.7L252.3 247.8L254.8 251.9L254.8 256.1L252.3 261.2L249.8 266.4L249.8 273.6L247.9 280.8L246.1 284.9L242.3 286.0L238.0 291.1L237.7 296.3L233.6 304.5L231.1 308.7L227.4 308.7L225.5 307.6L227.4 312.8L226.1 316.9L221.1 318.0L220.5 322.1L217.4 322.1L218.6 325.6L216.8 330.3L214.3 332.4L216.2 336.5L212.4 341.7L213.0 345.8L211.2 349.5L207.7 341.7L207.0 334.5L207.7 326.2L208.3 320.0L208.9 313.8L210.2 303.5L210.4 297.3L210.9 289.1L210.8 275.7L207.4 271.5L203.1 265.3L200.6 257.1L197.4 249.9L197.4 246.4L198.7 243.7L197.4 239.6L198.7 236.5L199.9 234.4L201.2 231.7L201.8 229.2L201.8 223.1L200.6 220.0L198.7 222.4L195.6 220.6L191.8 216.9L189.3 210.7L185.0 208.6L181.2 204.1L177.5 204.9L171.3 200.8L166.9 196.2L166.9 191.1L162.5 184.9L158.2 177.7L155.4 172.5L155.7 175.6L158.8 183.9L161.9 190.1L158.8 186.3L155.7 179.7L152.6 170.5L148.2 166.3L145.7 160.1L143.8 154.0L143.8 142.6L145.1 137.5L142.6 134.4L138.8 130.2L135.7 125.1L131.4 117.9L127.0 115.8L122.6 113.7L116.4 112.3L112.7 113.7L108.9 115.8L106.4 118.9L101.4 120.9L95.2 124.0L98.9 116.8L96.4 114.8L92.7 109.6L94.0 106.5L97.7 104.4L91.5 104.4L89.0 102.4"/>
<path d="M213.0 346.4L216.8 350.5L213.7 351.6L211.2 349.5"/>
<path d="M198.7 85.9L203.7 87.9L211.2 92.1L214.9 96.2L221.1 99.3L218.6 103.4L214.9 107.5L216.2 109.6L209.9 108.6L206.2 104.4L201.2 103.4L207.4 98.3L202.4 94.1L196.2 93.1L188.7 92.1L186.2 87.9L192.5 85.9L198.7 85.9"/>
<path d="M186.2 79.7L198.7 80.7L201.2 76.6L206.2 74.5L213.7 72.5L221.1 68.3L211.2 66.3L196.2 67.3L186.2 70.4L188.7 74.5L183.7 76.6L186.2 79.7"/>
<path d="M224.5 138.9L228.6 141.0L232.4 141.2L232.4 137.5L229.2 134.8L228.6 131.3L224.5 138.9"/>
<path d="M192.5 192.1L196.2 190.1L201.2 191.5L204.9 195.2L201.8 196.4L201.2 193.1L196.2 192.1L192.5 192.1"/>
<path d="M205.6 199.3L208.7 196.7L213.0 199.3L209.9 200.8L205.6 199.3"/>
<path d="M317.2 96.2L322.1 93.1L329.6 91.0L337.1 92.5L339.6 94.5L349.6 99.3L349.0 100.7L342.1 100.3L339.6 99.9L341.8 104.4L344.6 105.9L348.3 104.0L353.9 101.4L353.3 96.4L356.4 97.2L365.2 96.2L373.3 95.2L374.5 93.7L382.0 96.2L384.5 96.2L382.0 91.0L383.9 86.9L388.9 87.3L388.9 95.2L390.1 97.6L390.7 89.0L398.2 85.9L405.7 84.8L406.9 82.2L421.9 80.1L428.1 77.2L439.4 80.7L431.9 86.3L439.4 85.5L453.1 85.5L458.1 89.0L461.8 91.4L473.0 87.9L485.5 89.0L498.0 93.1L500.5 93.9L510.4 93.1L511.7 95.2L522.9 95.6"/>
<path d="M522.9 103.4L520.4 104.4L519.2 108.6L512.9 111.7L510.4 113.7L505.4 113.7L501.7 117.9L501.1 122.0L499.8 124.5L495.5 130.2L493.8 132.3L492.3 124.0L493.6 118.9L498.0 112.7L501.7 109.6L498.6 110.6L493.0 110.6L491.7 115.2L486.7 115.2L479.3 115.2L474.3 118.9L469.3 126.1L474.3 128.2L474.3 134.4L473.4 140.5L472.7 140.0L469.0 143.7L465.3 148.1L461.5 152.5L460.3 157.5L457.7 164.4L455.3 160.0L454.6 157.5L450.9 155.6L445.9 159.4L448.4 161.3L450.9 163.1L449.6 168.7L450.3 173.8L449.0 178.7L448.4 184.4L447.1 187.2L441.5 191.9L437.7 193.7L434.6 195.0L435.9 197.5L434.0 200.0L433.5 204.5L434.7 211.7L431.9 215.8L429.4 219.6L429.4 216.9L426.9 214.8L424.1 210.1L422.8 213.8L423.5 220.0L427.3 228.2L428.1 234.6L424.4 231.3L423.5 225.1L421.0 221.0L421.3 212.7L420.0 203.5L417.5 204.5L416.0 203.9L415.7 198.3L412.9 191.5L411.3 192.1L406.9 193.6L404.4 197.3L398.6 205.5L398.2 210.7L398.0 216.3L395.1 221.0L393.2 216.9L389.9 202.4L389.2 194.2L386.4 194.6L384.5 191.5L382.0 186.5L375.8 185.5L370.1 184.5L368.9 181.8L362.7 180.2L360.8 175.6L358.3 175.6L362.0 183.9L362.7 187.0L365.8 188.0L368.8 183.2L368.9 187.0L373.0 191.1L371.4 195.6L367.0 202.4L363.3 204.5L354.6 211.1L352.4 211.3L351.8 206.6L347.1 194.2L344.6 185.9L342.1 179.7L341.8 176.6L340.2 179.7L339.0 176.0L342.8 188.4L345.0 194.2L345.0 198.7L347.7 205.5L352.1 212.7L353.3 215.8L362.0 213.2L362.0 215.8L358.1 228.2L350.2 241.0L347.7 247.2L347.1 251.9L348.3 259.2L349.1 268.4L342.1 278.8L342.7 287.0L339.2 291.1L339.2 296.3L336.5 301.4L332.7 307.0L325.9 308.0L323.4 309.3L321.4 308.0L320.9 303.5L318.0 294.2L316.5 282.9L313.2 273.6L315.5 260.2L315.0 255.0L313.7 249.3L310.0 239.6L310.5 231.3L309.0 228.0L305.9 228.6L303.8 224.5L299.7 225.5L296.0 227.6L292.8 226.8L289.1 228.4L285.4 224.1L281.9 219.3L279.7 214.8L277.5 210.7L276.6 207.2L278.1 202.4L278.1 197.3L277.3 194.2L278.5 188.4L280.4 183.5L282.2 180.2L284.0 180.6"/>
<path d="M360.2 160.1L361.4 154.4L357.7 149.8L357.7 144.7L362.0 141.0L364.5 141.6L364.5 144.7L362.0 145.7L361.4 150.9L364.3 151.3L365.8 155.0L365.5 161.2L362.0 161.8L360.2 160.1"/>
<path d="M398.2 217.5L400.5 222.0L398.8 225.1L398.0 221.0L398.2 217.5"/>
<path d="M475.5 125.5L476.8 127.1L477.4 134.4L478.6 136.4L476.8 140.5L475.5 142.6L475.5 138.5L475.5 132.3L475.5 125.5"/>
<path d="M362.7 90.0L367.0 86.3L369.5 82.8L375.8 80.3L383.2 79.1L380.7 81.1L373.3 83.8L368.3 89.0L370.1 91.4L365.8 91.4L362.7 90.0"/>
<path d="M416.9 74.5L423.1 70.4L429.4 73.5L426.9 76.2L420.7 74.9L416.9 74.5"/>
<path d="M469.3 82.2L474.3 80.7L479.3 81.8L485.5 82.4L480.5 83.2L473.0 83.4L469.3 82.2"/>
<path d="M74.0 95.6L77.7 97.2L82.7 99.3L86.5 101.4L83.4 104.4L79.6 103.8L76.5 102.4L74.0 103.4"/>
<path d="M76.5 400.0L98.0 399.5L99.0 402.5L96.0 400.5"/>
<path d="M109.0 403.8L111.5 398.8L119.0 395.0L128.0 392.5L140.0 390.0L149.0 391.0L159.0 390.0L163.0 393.0L174.0 388.8L196.5 388.8L209.0 386.0L214.0 380.0L218.0 373.8L225.0 370.5L223.0 380.0L223.5 392.5L234.0 396.5L239.0 398.0L249.0 397.5L257.8 396.2L267.8 391.2L281.5 386.2L297.8 380.5L304.0 382.5L319.0 382.0L331.5 383.8L346.5 381.2L354.0 377.0L364.0 374.5L374.0 376.2L385.2 379.5L387.8 382.5L394.0 380.5L404.0 375.8L421.5 374.2L444.0 375.8L454.0 374.2L474.0 375.5L494.0 380.5L511.5 386.8L505.2 393.8L501.5 400.0L504.0 406.2L516.5 410.0"/>
<path d="M109.0 403.8L110.0 408.8L115.0 415.0L106.5 413.8L89.0 412.5L76.5 413.0"/>
<path d="M501.5 400.0L514.0 398.0L524.0 399.5"/>
<path d="M216.5 372.5L221.5 370.8L226.0 369.5L225.0 375.0L223.5 381.0L222.8 386.0L224.0 393.8L220.0 392.5L216.0 385.0L216.5 372.5"/>
<path d="M224.0 393.8L209.0 395.0L196.5 397.5L204.0 402.5L214.0 406.2L229.0 407.0L246.5 405.0L260.0 402.5L257.8 398.8L244.0 401.2L229.0 400.0L214.0 402.5L204.0 402.5"/>
<path d="M385.2 379.5L390.2 380.0L387.8 383.0"/>
<path d="M417.8 225.8L426.5 235.8L431.5 244.0L425.2 243.2L417.8 225.8"/>
<path d="M435.2 239.5L445.2 224.5L446.5 233.2L441.5 244.5L435.2 239.5"/>
<path d="M431.5 251.2L441.5 254.0L435.2 254.5L431.5 251.2"/>
<path d="M462.8 241.5L475.2 243.2L486.5 259.5L471.5 252.0L462.8 241.5"/>
<path d="M450.2 200.8L452.0 200.8L452.8 209.5L450.2 209.5L450.2 200.8"/>
<path d="M451.5 224.5L454.5 218.2L455.2 225.8L451.5 224.5"/>
<path d="M447.5 215.8L448.5 217.0"/>
<path d="M340.2 238.2L341.5 238.2L341.5 245.0L340.5 245.0"/>
<path d="M316.0 75.8L324.0 74.5L334.0 74.5L327.8 77.0L324.0 80.8L320.2 81.5L321.5 78.2L316.0 75.8"/>
<path d="M391.5 146.0L399.0 143.5"/>
<path d="M373.0 144.0L375.0 143.0L376.5 146.0L375.0 149.5L373.5 148.0L373.0 144.0"/>
<path d="M145.6 88.8L147.5 85.6L150.6 86.2L151.9 89.4L156.2 90.0L160.6 89.4L165.6 88.8L166.9 90.6L170.0 93.1L173.8 95.6L171.2 97.5L166.9 96.2L165.0 100.0L160.0 99.4L156.9 96.2L155.0 91.9L151.9 90.0L146.9 90.6L145.6 88.8"/>
<path d="M148.8 81.2L152.5 80.0L155.6 79.4"/>
<path d="M155.6 82.5L158.1 83.8L161.9 83.1L164.4 80.6L166.9 83.8L162.5 84.4L158.8 85.0L155.6 82.5"/>
<path d="M159.4 78.8L163.1 77.5"/>
<path d="M169.4 75.6L171.9 76.9L175.6 78.8L177.5 80.6L175.0 83.1L176.2 81.9"/>
<path d="M177.5 77.5L180.0 78.8L181.9 80.6L181.2 83.1L183.8 83.8"/>
<path d="M173.1 88.1L175.6 86.9L176.9 90.0L173.1 88.1"/>
<path d="M181.9 86.9L184.4 86.2L183.8 88.8L181.9 86.9"/>
<path d="M178.8 92.5L183.1 93.1L181.9 96.2L180.0 101.2L177.5 98.8L178.8 92.5"/>
<path d="M189.4 88.8L192.5 86.9L196.2 86.2L200.0 86.9L205.0 87.5L208.1 89.4L202.5 90.0L196.2 89.4L189.4 88.8"/>
<path d="M181.2 118.8L182.5 112.5L186.2 107.5L190.0 104.4L193.8 101.9L195.6 100.0"/>
<path d="M193.8 103.8L195.0 108.8L198.8 108.1L196.9 105.0L193.8 103.8"/>
<path d="M145.6 101.9L149.4 101.2L152.5 101.9L150.0 104.4L145.6 103.8L145.6 101.9"/>
<path d="M149.4 106.2L152.5 107.5L156.2 110.0L162.5 109.4L160.0 111.2L155.0 111.9L151.9 111.9"/>
<path d="M160.0 117.5L165.0 116.2L171.2 118.1L172.5 120.0"/>
<path d="M355.1 288.8L357.0 278.0L360.8 264.4L360.4 270.0L359.6 277.5L357.2 286.0L355.1 288.8"/>
<path d="M101.0 193.5L102.0 194.3"/>
<path d="M103.0 195.3L104.3 196.6"/>
<path d="M77.0 131.7L78.5 131.4"/>
<path d="M82.0 130.7L83.5 130.4"/>
<path d="M86.8 129.6L88.0 129.3"/>
<path d="M91.5 128.2L93.0 127.8"/>
<path d="M84.3 266.5L85.8 266.5"/>
<path d="M185.0 238.0L185.5 239.5"/>
<path d="M216.0 201.2L217.5 201.2"/>
<path d="M376.5 74.3L378.0 73.8"/>
<path d="M379.0 73.3L380.5 73.0"/>
<path d="M512.5 129.0L513.0 130.5"/>
<path d="M288.7 92.7L289.7 92.7"/>
<path d="M296.3 113.0L297.0 114.5"/>
<path d="M289.6 160.0L289.0 156.2L289.6 152.5L291.5 149.4L295.2 146.9L298.4 143.8L296.5 141.9L294.6 139.4L297.1 137.5L301.5 135.6L304.6 133.1L307.8 129.4L308.4 125.0L310.2 123.1L313.4 124.4L316.5 128.1L320.2 126.9L324.0 124.4L327.8 121.2L331.5 118.8L335.9 116.2L329.6 116.2L327.1 111.2L327.8 107.5L329.6 104.4L326.5 106.9L323.4 108.8L322.1 111.2L323.4 115.0L321.5 120.6L318.4 123.8L314.0 120.0L310.2 118.8L306.8 116.2L308.4 111.9L315.2 105.0L318.4 100.0L317.2 96.2"/>
<path d="M291.5 118.8L294.0 118.8L295.2 121.9L297.1 126.9L299.6 130.6L300.9 133.8L297.8 134.4L295.2 135.6L295.9 133.1L294.6 129.4L292.8 126.2L293.4 123.1L290.9 121.2L291.5 118.8"/>
<path d="M287.8 128.8L290.2 126.2L292.8 125.0L292.1 128.1L289.6 130.6L288.4 132.5L287.8 128.8"/>
<path d="M284.0 180.6L287.8 173.8L290.9 166.9L293.4 163.1L296.5 164.4L302.8 163.1L311.5 162.5L313.4 166.2L314.6 170.0L319.6 173.8L324.0 176.2L328.4 172.5L332.8 174.4L336.5 173.8L339.6 175.0L342.1 170.6L344.0 166.9L341.5 165.0L336.5 163.1L333.4 159.4L332.1 156.2L328.4 156.9L328.4 161.9L326.5 161.9L324.0 157.5L322.8 153.8L320.2 150.0L317.1 147.5L320.2 153.8L322.1 157.5L318.4 156.9L315.9 154.4L312.1 150.6L308.4 149.4L304.0 151.2L300.9 155.0L298.4 160.0L296.5 164.4L293.4 163.1L290.9 160.6L289.6 155.6"/>
<path d="M332.1 156.2L335.2 153.8L336.5 148.8L338.4 146.2L342.8 145.6L349.0 142.5L349.6 147.5L348.4 152.5L346.5 155.0L340.9 155.0L335.2 154.4L332.1 156.2"/>
<path d="M310.2 154.4L310.9 156.2"/>
<path d="M316.2 160.4L318.4 160.4"/>
<path d="M329.2 165.0L329.2 166.2"/>
<path d="M475.9 147.5L475.0 152.5L474.0 156.2L473.4 160.6L473.4 165.0L470.2 166.2L465.2 167.5L464.0 165.0L467.8 162.5L471.5 158.8L473.4 155.6L474.6 151.2L475.9 147.5"/>
<path d="M475.6 141.2L475.2 143.8L475.9 147.5L478.4 149.4L477.1 151.2L474.6 151.2"/>
<path d="M460.9 170.0L464.6 168.5L462.8 173.5L460.9 170.0"/>
<path d="M449.0 187.0L451.5 186.2"/>
<path d="M220.4 70.3L226.7 69.2L238.4 67.9L250.9 66.7L261.0 66.4L268.8 67.6L268.1 71.8L275.1 72.6L282.1 71.4L277.4 74.2L275.1 78.1L272.8 82.8L266.5 88.2L272.0 90.6L265.7 93.7L267.3 95.3L257.9 98.4L250.9 102.3L247.0 108.6L245.4 114.8L239.2 112.5L236.0 105.4L232.9 99.2L235.2 92.9L232.1 89.0L227.4 83.6L219.6 80.4L212.6 78.9L211.8 76.5L219.6 71.1L220.4 70.3L214.2 67.2L204.0 67.2"/>
<path d="M270.4 103.1L279.8 101.5L280.6 105.4L274.3 107.3L270.4 103.1"/>
<path d="M442.6 281.2L449.6 276.6L455.1 268.8L459.8 268.0L464.5 261.7L467.6 263.3L471.5 271.9L476.2 260.6L478.5 267.2L480.9 274.2L485.6 283.6L489.5 292.2L487.9 303.1L485.6 310.9L480.1 317.2L476.2 317.2L472.3 314.8L467.6 307.8L462.1 302.3L457.4 303.9L451.2 307.0L444.9 306.2L442.6 301.6L441.5 293.8L441.8 287.5L442.6 281.2"/>
<path d="M514.5 308.6L517.6 314.1L519.6 318.8L516.8 315.6L514.5 308.6"/>
<path d="M514.7 321.3L514.5 325.0L512.8 327.0L509.0 332.5L510.5 328.5L512.5 324.5L514.7 321.3"/>
<path d="M479.5 321.5L483.5 325.0L481.5 326.3L479.5 321.5"/>
<path d="M503.5 278.9L503.5 280.6"/>
<path d="M521.5 272.8L522.8 271.9"/>
<path d="M184.0 140.3L185.6 139.5L190.2 138.0L187.9 138.8L187.1 141.9L190.2 143.4L192.6 148.9L194.2 145.0L196.5 148.1L197.3 150.5L202.8 148.1L209.0 145.0L215.2 141.9"/>
<path d="M175.4 128.6L177.0 131.7L176.2 135.6L177.8 129.4"/>
<path d="M180.1 138.0L184.0 134.8"/>
<path d="M158.2 152.0L159.8 150.9"/></g>
<g shape-rendering="crispEdges"><path d="M535 367.5h5M557 367.5h-5" stroke="#000" stroke-width="1"/><path d="M535 316.5h5M557 316.5h-5" stroke="#000" stroke-width="1"/><path d="M535 264.5h5M557 264.5h-5" stroke="#000" stroke-width="1"/><path d="M535 212.5h5M557 212.5h-5" stroke="#000" stroke-width="1"/><path d="M535 160.5h5M557 160.5h-5" stroke="#000" stroke-width="1"/><path d="M535 109.5h5M557 109.5h-5" stroke="#000" stroke-width="1"/>
<rect x="74.5" y="57.5" width="450" height="362" fill="none" stroke="#000" stroke-width="1"/>
<rect x="535.5" y="57.5" width="22" height="362" fill="none" stroke="#000" stroke-width="1"/>
</g>
<g class="t"><text x="297.2" y="33" text-anchor="middle" letter-spacing="0.03">UQRG-GIM Global StdDev-VTEC maps 20260114.014.00000</text>
<text x="111.4" y="443" text-anchor="middle">-150</text>
<text x="173.8" y="443" text-anchor="middle">-100</text>
<text x="236.1" y="443" text-anchor="middle">-50</text>
<text x="298.4" y="443" text-anchor="middle">0</text>
<text x="360.8" y="443" text-anchor="middle">50</text>
<text x="423.1" y="443" text-anchor="middle">100</text>
<text x="485.5" y="443" text-anchor="middle">150</text>
<text x="61.5" y="408.0" text-anchor="end">-80</text>
<text x="61.5" y="366.8" text-anchor="end">-60</text>
<text x="61.5" y="325.5" text-anchor="end">-40</text>
<text x="61.5" y="284.3" text-anchor="end">-20</text>
<text x="61.5" y="243.0" text-anchor="end">0</text>
<text x="61.5" y="201.7" text-anchor="end">20</text>
<text x="61.5" y="160.5" text-anchor="end">40</text>
<text x="61.5" y="119.2" text-anchor="end">60</text>
<text x="61.5" y="78.0" text-anchor="end">80</text>
<text x="571" y="424.5">3</text>
<text x="571" y="372.8">4</text>
<text x="571" y="321.1">5</text>
<text x="571" y="269.4">6</text>
<text x="571" y="217.6">7</text>
<text x="571" y="165.9">8</text>
<text x="571" y="114.2">9</text>
<text x="571" y="62.5">10</text>
<text x="297.6" y="471" text-anchor="middle" letter-spacing="0.1">Longitude / deg</text>
<text transform="translate(19,238.7) rotate(-90)" text-anchor="middle" letter-spacing="0.1">Latitude / deg</text>
<text transform="translate(606,239) rotate(-90)" text-anchor="middle" letter-spacing="0.04">StdDev-VTEC / TECU</text></g>
</svg>
</body></html>
